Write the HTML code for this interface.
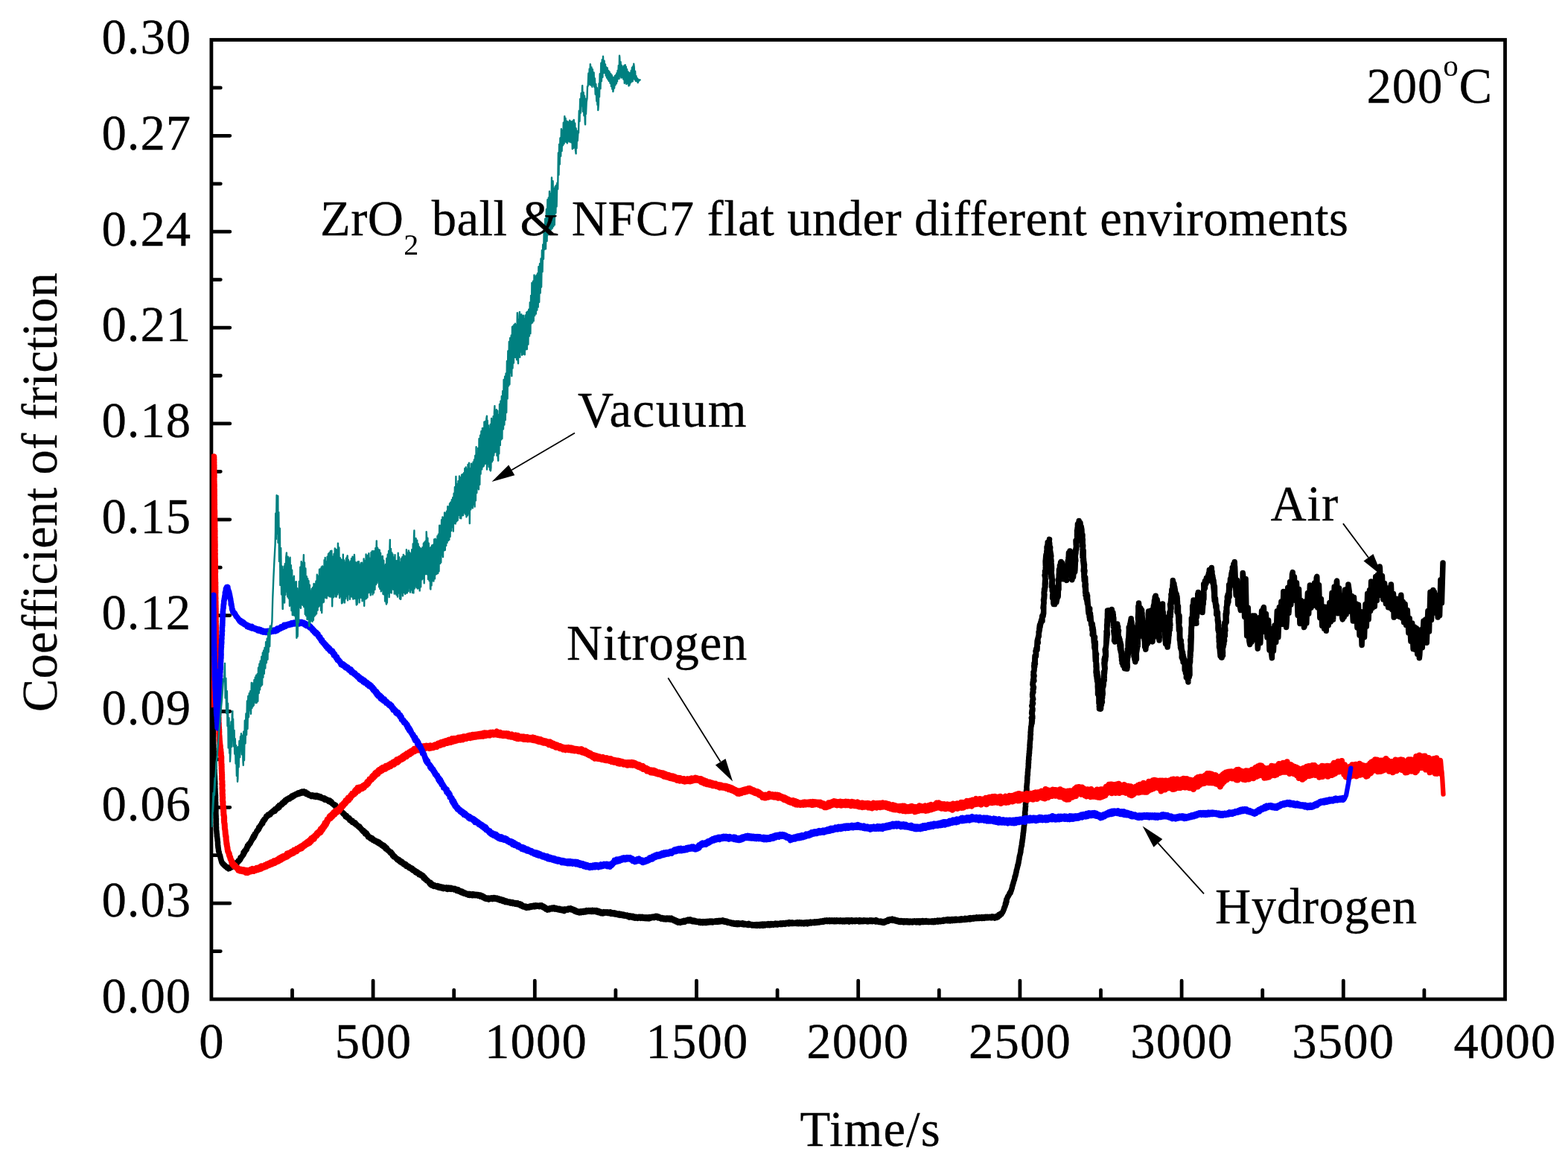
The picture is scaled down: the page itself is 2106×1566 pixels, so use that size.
<!DOCTYPE html>
<html lang="en"><head><meta charset="utf-8"><title>Coefficient of friction vs time</title>
<style>html,body{margin:0;padding:0;background:#fff;}body{width:2106px;height:1566px;overflow:hidden;}svg{display:block;}text{font-family:"Liberation Serif","DejaVu Serif",serif;fill:#000;stroke:#000;stroke-width:0.3px;white-space:pre;}</style></head><body>
<svg width="2106" height="1566" viewBox="0 0 2106 1566">
<rect width="2106" height="1566" fill="#fff"/>
<g stroke="#000" stroke-width="4.8" fill="none" stroke-linecap="round" stroke-linejoin="miter">
<rect x="283.9" y="53.5" width="1737.6" height="1288.5"/>
<path d="M284.9 1277.6h11.4M284.9 1213.2h23.9M284.9 1148.7h11.4M284.9 1084.3h23.9M284.9 1019.9h11.4M284.9 955.5h23.9M284.9 891.0h11.4M284.9 826.6h23.9M284.9 762.2h11.4M284.9 697.8h23.9M284.9 633.3h11.4M284.9 568.9h23.9M284.9 504.5h11.4M284.9 440.1h23.9M284.9 375.6h11.4M284.9 311.2h23.9M284.9 246.8h11.4M284.9 182.3h23.9M284.9 117.9h11.4M392.5 1341.0v-11.4M501.1 1341.0v-23.9M609.7 1341.0v-11.4M718.3 1341.0v-23.9M826.9 1341.0v-11.4M935.5 1341.0v-23.9M1044.1 1341.0v-11.4M1152.7 1341.0v-23.9M1261.3 1341.0v-11.4M1369.9 1341.0v-23.9M1478.5 1341.0v-11.4M1587.1 1341.0v-23.9M1695.7 1341.0v-11.4M1804.3 1341.0v-23.9M1912.9 1341.0v-11.4"/>
</g>
<defs><clipPath id="plot"><rect x="283.9" y="53.5" width="1737.6" height="1288.5"/></clipPath></defs>
<g clip-path="url(#plot)">
<g fill="none" stroke-linejoin="round" stroke-linecap="round">
<path d="M284.6 900.2L284.5 901.1L284.6 902.8L284.7 903.8L284.7 905.4L284.7 906.4L284.7 908.0L284.6 909.0L284.6 910.6L284.8 911.6L284.7 913.3L284.8 914.2L284.7 915.8L284.8 916.8L284.7 918.4L284.9 919.4L284.8 921.1L284.9 922.0L284.9 923.6L284.8 924.6L284.9 926.3L284.9 927.2L285.0 928.8L285.1 929.9L285.1 931.5L285.0 932.4L285.0 934.1L285.1 935.0L285.2 936.7L285.2 937.6L285.2 939.3L285.2 940.3L285.2 941.9L285.3 942.9L285.3 944.5L285.2 945.5L285.3 947.2L285.2 948.1L285.3 949.8L285.3 950.7L285.3 952.3L285.4 953.3L285.5 955.0L285.3 955.9L285.4 957.6L285.5 958.5L285.5 960.1L285.5 961.2L285.6 962.8L285.6 963.8L285.6 965.4L285.6 966.4L285.7 968.0L285.7 968.9L285.7 970.7L285.9 971.5L285.9 973.3L286.0 974.1L286.0 975.9L286.1 976.8L286.1 978.5L286.2 979.4L286.2 981.1L286.2 982.0L286.3 983.7L286.4 984.6L286.3 986.3L286.4 987.2L286.5 988.9L286.6 989.8L286.4 991.5L286.6 992.5L286.6 994.1L286.7 995.1L286.7 996.7L286.7 997.6L286.7 999.4L286.9 1000.3L286.9 1002.0L286.9 1002.9L286.9 1004.6L287.1 1005.4L287.0 1007.1L287.0 1008.0L287.2 1009.8L287.1 1010.7L287.1 1012.3L287.3 1013.3L287.3 1015.0L287.3 1015.9L287.5 1017.6L287.4 1018.4L287.5 1020.2L287.7 1021.1L287.6 1022.8L287.6 1023.7L287.8 1025.4L287.8 1026.3L287.9 1028.0L287.9 1028.9L288.0 1030.7L287.8 1031.5L287.9 1033.3L288.2 1034.2L288.0 1035.9L288.1 1036.8L288.2 1038.5L288.2 1039.4L288.3 1041.2L288.4 1042.0L288.5 1043.8L288.5 1044.6L288.6 1046.4L288.6 1047.2L288.6 1049.0L288.8 1049.9L288.6 1051.6L288.9 1052.5L288.7 1054.2L288.7 1055.1L288.9 1056.8L288.8 1057.6L288.9 1059.4L289.0 1060.3L289.0 1062.0L289.1 1062.9L289.1 1064.8L289.2 1065.5L289.3 1067.3L289.5 1068.1L289.4 1070.0L289.6 1070.8L289.3 1072.6L289.6 1073.4L289.5 1075.2L289.5 1076.1L289.7 1077.9L289.7 1078.6L289.6 1080.4L289.8 1081.3L289.8 1083.1L289.8 1084.0L290.0 1085.8L289.9 1086.6L290.0 1088.5L289.9 1089.3L289.9 1091.0L289.9 1091.9L290.0 1093.7L290.0 1094.5L290.2 1096.3L290.1 1097.1L290.2 1099.0L290.4 1099.7L290.3 1101.7L290.3 1102.5L290.3 1104.2L290.2 1105.1L290.5 1106.9L290.4 1107.7L290.3 1109.6L290.5 1110.4L290.6 1112.1L290.5 1113.0L290.6 1114.8L290.8 1115.7L291.0 1117.4L291.0 1118.2L291.2 1120.1L291.4 1120.8L291.3 1122.7L291.6 1123.5L291.7 1125.2L291.9 1126.0L292.1 1127.8L292.1 1128.7L292.4 1130.5L292.5 1131.3L292.5 1133.1L292.5 1133.9L292.7 1135.8L292.9 1136.4L292.9 1138.3L293.2 1139.0L293.4 1141.0L293.5 1141.6L293.7 1143.5L294.1 1144.1L294.5 1146.1L294.6 1146.6L295.2 1148.6L295.6 1149.1L295.9 1150.9L296.1 1151.6L296.5 1153.3L296.7 1154.0L297.2 1155.9L297.4 1156.5L297.9 1158.4L298.5 1158.7L299.2 1160.5L300.3 1160.4L301.1 1162.2L302.0 1162.1L302.9 1163.9L304.2 1164.0L305.1 1165.7L305.6 1165.5L306.9 1166.7L308.0 1165.5L308.8 1166.0L309.7 1164.3L311.1 1164.8L312.3 1162.8L313.1 1163.2L314.3 1161.3L315.5 1161.8L316.1 1160.2L317.6 1160.5L318.1 1158.3L318.7 1159.0L320.0 1156.2L320.8 1156.8L322.0 1154.3L322.7 1154.6L322.9 1152.0L323.7 1152.4L325.1 1149.7L325.6 1149.8L326.4 1147.5L327.0 1147.9L327.0 1145.0L328.3 1145.4L328.5 1143.1L329.3 1143.4L330.2 1140.6L331.2 1141.0L331.6 1138.3L332.1 1138.6L332.4 1136.1L333.3 1136.6L334.0 1133.8L334.7 1134.4L336.0 1131.6L336.2 1132.6L337.3 1129.3L337.6 1129.8L338.4 1127.1L338.9 1127.7L339.6 1124.7L340.6 1125.5L340.7 1122.8L341.9 1123.0L342.3 1120.2L343.0 1120.7L343.9 1118.3L344.0 1118.6L345.0 1115.8L345.5 1116.3L346.8 1113.5L347.4 1114.1L347.6 1111.5L348.6 1111.7L349.3 1109.2L349.6 1109.5L350.8 1107.2L350.9 1107.7L351.8 1105.0L352.8 1105.9L353.2 1102.7L353.8 1103.2L354.6 1100.7L355.6 1101.1L356.9 1098.5L356.8 1099.1L357.6 1096.4L358.5 1096.9L359.7 1094.5L360.8 1095.0L361.9 1093.1L363.1 1093.8L364.1 1091.3L364.5 1092.0L365.9 1089.8L366.6 1090.4L367.9 1088.2L369.4 1089.2L369.6 1086.7L370.8 1087.4L371.7 1085.2L373.1 1085.6L373.5 1083.4L375.1 1084.2L375.3 1081.5L376.3 1082.2L378.0 1079.7L378.6 1080.9L379.3 1078.2L380.4 1079.2L381.2 1076.6L382.7 1077.4L383.2 1074.8L384.3 1075.5L385.1 1073.3L386.2 1074.0L387.7 1072.0L389.2 1072.9L390.3 1070.7L391.1 1071.4L391.8 1069.2L393.1 1070.3L394.2 1068.1L395.2 1068.9L396.5 1067.0L397.4 1067.6L398.7 1065.8L400.2 1066.6L400.7 1064.8L401.9 1066.0L403.6 1063.9L404.6 1065.3L405.8 1063.3L406.9 1064.8L408.3 1063.0L409.3 1065.0L410.8 1064.0L411.5 1066.3L413.1 1065.4L414.2 1067.8L414.9 1067.0L416.6 1068.7L417.1 1067.8L418.2 1069.5L419.8 1068.0L421.4 1069.8L423.1 1068.4L423.9 1070.4L425.6 1068.6L427.2 1070.6L428.2 1069.1L429.2 1071.0L430.7 1070.0L431.7 1071.9L432.7 1071.1L433.9 1072.8L435.5 1071.9L436.4 1074.2L437.5 1072.9L439.5 1075.0L440.1 1074.1L441.4 1076.3L443.1 1075.1L444.0 1077.5L445.1 1076.7L445.9 1079.0L446.2 1078.5L448.1 1080.8L448.5 1080.2L450.0 1082.5L450.7 1081.2L451.2 1084.1L452.0 1083.2L453.4 1085.8L454.1 1085.0L455.1 1087.5L456.5 1086.7L457.3 1089.3L457.7 1088.4L459.3 1090.7L459.4 1090.3L460.7 1092.7L461.3 1092.1L462.3 1094.2L462.9 1093.6L463.8 1096.3L465.6 1095.6L466.0 1097.8L466.8 1097.3L468.0 1099.4L469.2 1098.9L469.7 1101.4L470.5 1100.4L471.5 1102.7L473.2 1102.4L473.4 1104.4L474.5 1103.9L476.3 1106.2L477.3 1105.3L478.5 1107.9L479.0 1107.2L480.5 1109.5L480.8 1108.9L482.2 1111.1L483.1 1110.3L484.3 1112.8L484.6 1112.3L485.9 1114.8L486.2 1114.0L487.3 1116.3L488.4 1115.7L489.3 1118.3L490.5 1117.5L490.7 1120.0L492.4 1119.2L493.1 1121.8L493.9 1121.4L494.4 1123.9L495.2 1123.1L496.7 1125.5L498.0 1124.8L498.7 1127.0L500.2 1126.0L501.1 1128.3L501.8 1127.4L503.3 1129.6L504.3 1128.9L505.9 1131.0L507.1 1130.2L508.0 1132.4L509.2 1131.2L510.0 1133.5L511.3 1132.9L512.5 1135.2L512.9 1134.1L514.2 1136.5L515.6 1135.4L516.3 1138.1L517.5 1137.2L518.1 1139.9L519.5 1139.0L520.5 1141.6L520.7 1141.1L522.3 1143.2L522.6 1142.6L523.9 1145.1L525.2 1144.4L526.0 1146.9L526.7 1146.3L527.3 1149.0L528.1 1148.3L528.9 1150.7L530.1 1150.2L531.5 1152.3L531.7 1151.7L533.2 1154.4L533.9 1153.5L535.0 1155.6L536.1 1154.8L537.1 1157.3L538.4 1156.4L539.2 1158.7L540.5 1157.8L541.9 1160.5L542.3 1159.4L543.8 1161.8L545.1 1160.8L545.9 1163.4L546.9 1162.7L548.5 1164.7L549.3 1163.8L549.9 1166.0L551.6 1165.4L552.9 1167.6L553.7 1166.2L554.5 1168.9L555.8 1168.2L557.2 1170.5L557.9 1169.5L558.4 1171.8L560.1 1170.9L560.7 1173.0L561.9 1172.3L562.8 1174.6L564.4 1173.6L565.5 1175.8L566.3 1174.9L567.8 1177.1L568.2 1176.1L568.9 1179.0L570.2 1178.2L570.8 1180.6L571.9 1180.3L573.0 1182.7L574.0 1182.1L575.4 1184.4L575.6 1183.9L576.8 1186.4L578.4 1185.4L578.5 1188.1L580.0 1187.1L580.4 1189.3L582.5 1188.6L582.9 1190.4L584.4 1189.1L585.7 1190.8L587.5 1189.8L588.4 1191.8L589.5 1190.2L590.9 1192.4L592.1 1191.1L593.1 1192.9L594.8 1191.5L595.8 1193.5L597.3 1192.2L599.0 1193.7L600.0 1192.0L601.5 1194.4L602.9 1192.3L604.2 1194.0L605.5 1192.6L606.4 1194.3L607.9 1193.1L609.8 1194.8L610.9 1193.5L612.2 1195.3L613.4 1194.5L613.8 1196.5L615.6 1194.9L616.8 1197.4L618.1 1196.5L619.3 1198.6L620.8 1197.3L621.8 1199.5L622.6 1198.2L623.5 1200.2L624.6 1199.2L626.4 1201.0L627.1 1200.1L628.7 1201.9L629.9 1200.5L630.8 1202.3L632.0 1200.7L633.9 1202.4L635.2 1200.8L635.9 1202.6L637.7 1201.1L638.5 1202.7L640.2 1201.4L641.8 1202.9L642.7 1201.6L644.2 1203.5L645.4 1202.3L645.9 1204.3L647.8 1203.2L648.8 1205.5L649.9 1204.3L651.4 1206.7L652.7 1205.9L653.7 1207.4L654.5 1206.2L656.4 1207.9L657.1 1206.2L658.8 1207.3L660.0 1206.0L661.4 1207.4L662.7 1205.7L664.0 1207.0L664.6 1205.7L666.1 1207.4L667.5 1206.3L668.6 1208.0L669.7 1207.0L671.4 1209.1L672.6 1207.8L674.0 1209.8L675.5 1208.5L676.0 1210.5L677.7 1209.4L678.8 1211.5L680.5 1210.2L681.4 1211.8L682.2 1210.9L684.3 1212.5L684.7 1211.2L685.9 1213.0L687.8 1211.6L689.0 1213.6L689.9 1212.3L691.5 1213.9L692.7 1212.7L694.0 1214.4L695.3 1213.1L696.3 1214.9L698.1 1213.9L699.1 1216.2L699.9 1214.5L701.2 1217.0L701.8 1215.9L702.9 1218.0L705.0 1217.1L706.0 1218.8L706.9 1217.5L707.6 1219.3L709.8 1217.6L710.5 1218.9L712.2 1216.9L713.2 1218.2L714.4 1216.6L715.4 1217.8L717.0 1216.3L718.1 1217.7L719.7 1215.9L720.7 1217.4L722.2 1216.1L724.1 1217.6L725.4 1215.9L726.4 1217.4L727.6 1216.0L728.9 1218.4L730.4 1217.5L731.1 1219.5L732.5 1218.8L732.9 1220.9L734.0 1220.0L735.3 1222.1L737.3 1220.2L737.8 1221.6L739.1 1219.7L741.0 1220.8L741.9 1219.1L743.0 1220.5L744.1 1218.9L745.5 1221.0L746.9 1219.7L748.4 1221.4L748.9 1220.1L750.3 1221.8L751.8 1220.5L753.0 1222.3L754.7 1221.2L755.8 1222.9L757.1 1221.5L758.1 1223.5L758.7 1221.0L759.9 1222.4L761.7 1220.9L762.6 1222.0L763.6 1220.2L765.1 1221.4L766.3 1220.1L767.7 1221.8L768.5 1220.7L770.1 1222.7L771.2 1221.8L772.0 1223.9L772.8 1222.4L774.3 1224.8L775.2 1223.7L776.4 1225.4L778.2 1224.3L778.5 1225.9L780.3 1224.1L781.1 1225.5L783.0 1223.7L784.0 1225.2L785.1 1223.5L786.4 1224.8L787.8 1222.7L789.2 1224.3L790.8 1222.7L791.4 1224.2L793.3 1222.8L794.5 1224.4L795.9 1222.5L797.2 1224.3L798.6 1222.7L799.3 1224.0L801.1 1222.7L801.5 1224.9L803.7 1223.5L804.2 1225.8L806.3 1224.5L807.3 1226.6L808.7 1225.4L809.9 1226.9L811.2 1224.8L812.2 1226.3L813.8 1224.9L815.6 1226.4L816.4 1224.9L818.1 1226.5L819.6 1225.1L820.9 1227.2L822.0 1225.6L823.1 1227.4L824.7 1225.9L825.8 1227.8L827.0 1226.6L827.7 1228.1L829.5 1227.1L830.6 1228.8L832.0 1227.3L833.2 1229.2L834.6 1227.6L836.2 1229.5L837.6 1228.3L838.6 1230.0L839.7 1228.9L841.1 1230.4L842.3 1229.3L843.4 1231.1L845.2 1229.9L845.6 1232.0L847.2 1230.3L848.7 1231.9L850.0 1230.6L850.7 1232.6L852.0 1231.1L853.3 1233.1L854.6 1231.4L856.2 1233.2L858.0 1231.5L858.5 1233.0L860.0 1231.5L861.1 1233.2L862.6 1231.6L863.9 1233.3L865.1 1232.0L866.4 1233.4L867.7 1232.0L869.5 1233.6L870.5 1232.0L871.8 1233.8L872.9 1231.8L873.7 1233.3L875.6 1231.4L875.9 1232.7L877.3 1231.1L878.7 1232.4L880.4 1230.4L881.5 1231.9L882.4 1230.5L883.8 1232.7L884.9 1231.3L886.4 1233.3L887.0 1232.3L888.1 1234.1L889.5 1232.8L891.2 1234.4L892.3 1233.1L893.4 1234.7L895.1 1233.2L895.7 1234.8L896.9 1233.1L898.7 1234.8L899.5 1233.2L900.8 1235.0L902.0 1233.3L903.2 1235.5L904.2 1234.5L905.6 1236.6L906.5 1235.6L907.9 1237.9L909.2 1236.7L910.6 1239.0L912.1 1237.7L913.5 1239.2L914.4 1237.6L915.3 1238.6L917.0 1236.9L917.6 1238.4L918.8 1236.5L920.1 1237.9L921.8 1235.9L922.3 1237.0L924.1 1235.2L925.1 1236.8L926.9 1235.1L927.4 1236.9L929.0 1235.7L930.3 1237.6L931.9 1236.2L932.9 1237.9L934.0 1236.7L935.6 1238.3L937.1 1237.3L938.9 1238.9L940.0 1237.4L941.0 1239.4L942.4 1237.9L944.0 1239.4L944.5 1237.6L946.6 1239.4L947.3 1237.6L949.0 1239.3L950.1 1237.4L951.8 1238.9L953.0 1237.1L954.4 1238.6L955.0 1237.1L957.0 1238.8L957.3 1237.2L959.3 1238.3L960.9 1237.0L961.9 1238.2L963.1 1236.6L964.2 1238.3L965.7 1236.5L966.7 1237.9L968.2 1236.4L969.7 1237.5L970.8 1236.0L972.8 1238.0L973.3 1236.6L974.7 1238.3L976.0 1237.3L977.4 1239.2L978.5 1238.1L980.6 1239.9L981.3 1238.8L982.9 1240.6L984.4 1239.4L985.7 1241.0L986.2 1239.7L988.2 1241.3L989.4 1239.8L990.8 1241.5L992.0 1239.6L992.9 1241.4L994.6 1240.1L996.2 1241.4L997.4 1239.8L998.8 1241.7L1000.3 1240.4L1000.9 1241.8L1003.1 1240.8L1004.3 1242.4L1005.7 1240.5L1006.2 1242.4L1007.9 1241.4L1009.7 1242.9L1010.2 1241.5L1011.7 1243.0L1013.5 1241.9L1014.7 1243.1L1016.0 1241.7L1017.3 1243.2L1018.3 1241.8L1020.3 1243.2L1021.3 1241.4L1022.4 1243.1L1024.1 1241.2L1025.0 1243.3L1026.8 1241.3L1027.5 1242.8L1029.4 1241.1L1030.7 1242.4L1031.9 1240.8L1033.2 1242.6L1034.7 1240.6L1035.4 1242.4L1036.7 1240.7L1038.5 1242.2L1039.7 1240.6L1041.3 1241.8L1042.1 1240.1L1043.9 1241.9L1044.7 1240.3L1045.7 1241.5L1048.0 1240.0L1049.0 1241.5L1050.3 1239.9L1051.3 1241.4L1052.5 1239.7L1054.2 1241.2L1055.8 1239.6L1056.3 1240.8L1057.6 1239.5L1059.4 1240.8L1060.1 1238.6L1062.2 1240.4L1063.5 1238.9L1064.6 1240.4L1065.3 1239.1L1067.1 1240.3L1068.7 1239.1L1069.8 1240.4L1071.0 1238.8L1072.4 1240.5L1073.8 1238.7L1074.3 1240.5L1076.2 1238.9L1077.0 1240.5L1078.9 1239.1L1079.8 1240.7L1081.6 1238.9L1082.5 1240.3L1083.7 1238.7L1085.0 1240.7L1086.0 1238.7L1087.8 1239.8L1088.7 1238.2L1089.9 1239.8L1091.5 1238.4L1093.2 1239.5L1094.2 1237.9L1095.5 1239.3L1096.5 1238.0L1097.6 1239.0L1099.3 1237.6L1100.4 1238.9L1102.0 1237.2L1103.1 1238.3L1105.1 1236.6L1105.9 1238.2L1107.7 1236.1L1108.4 1237.5L1110.4 1236.0L1111.2 1237.5L1112.9 1236.2L1114.2 1237.5L1114.9 1235.9L1116.9 1237.4L1117.7 1236.0L1119.7 1237.5L1120.7 1236.0L1122.1 1237.6L1123.6 1236.0L1124.3 1237.6L1125.9 1236.1L1127.4 1237.5L1128.7 1235.9L1129.4 1237.5L1131.2 1236.1L1132.1 1237.8L1133.7 1236.2L1134.6 1237.8L1136.5 1235.9L1137.2 1237.5L1138.6 1236.1L1140.3 1238.0L1141.1 1235.9L1143.0 1237.4L1144.0 1235.8L1144.9 1237.6L1147.2 1236.1L1148.4 1237.5L1149.7 1236.0L1150.3 1237.4L1151.7 1236.2L1153.7 1237.8L1154.8 1235.8L1156.1 1237.6L1157.2 1236.2L1158.8 1237.6L1160.3 1236.0L1160.8 1237.4L1162.4 1236.2L1164.0 1237.6L1165.0 1236.1L1166.0 1237.8L1168.2 1236.0L1169.4 1237.4L1170.4 1236.0L1171.8 1237.6L1172.7 1236.2L1174.5 1237.4L1176.3 1235.8L1176.7 1238.0L1178.0 1236.3L1180.1 1238.3L1180.6 1237.0L1182.6 1238.5L1183.3 1237.3L1184.9 1239.0L1186.0 1237.6L1187.2 1239.2L1188.3 1237.4L1189.2 1238.6L1190.4 1236.6L1192.5 1237.4L1193.1 1235.1L1194.1 1236.6L1195.5 1234.6L1196.4 1235.8L1198.3 1234.3L1199.0 1236.3L1200.8 1235.0L1201.6 1236.6L1202.7 1235.4L1204.3 1237.4L1205.1 1235.8L1206.9 1238.0L1207.8 1236.7L1208.8 1238.4L1210.3 1236.7L1211.4 1238.3L1213.0 1237.0L1214.0 1238.7L1215.3 1236.9L1216.8 1238.5L1218.2 1237.0L1219.7 1238.7L1220.7 1237.1L1221.9 1238.7L1223.0 1237.1L1225.1 1238.8L1226.1 1237.1L1227.7 1238.3L1228.6 1237.0L1230.3 1238.7L1231.6 1236.9L1232.7 1238.6L1234.3 1237.0L1235.5 1239.0L1237.0 1237.0L1237.8 1238.4L1239.3 1236.8L1240.5 1238.4L1242.3 1236.9L1243.4 1238.3L1244.3 1236.8L1246.1 1238.4L1247.2 1237.2L1248.3 1238.3L1250.2 1237.2L1250.9 1238.4L1252.2 1236.9L1253.6 1238.4L1255.4 1236.7L1256.0 1238.4L1257.7 1236.6L1259.3 1238.0L1259.7 1236.1L1261.7 1237.5L1262.4 1236.2L1263.7 1237.5L1265.7 1235.9L1266.7 1237.2L1267.5 1235.3L1268.8 1236.9L1270.8 1235.2L1272.0 1236.5L1273.2 1234.8L1274.2 1236.7L1275.7 1235.1L1276.2 1236.8L1278.4 1234.7L1279.4 1236.5L1280.4 1234.6L1282.2 1236.2L1283.0 1234.4L1284.5 1235.9L1285.1 1234.4L1286.6 1235.8L1288.4 1234.4L1289.0 1235.9L1291.0 1233.9L1291.8 1235.6L1292.8 1234.1L1294.7 1235.4L1296.3 1233.6L1297.1 1235.2L1298.5 1233.6L1299.5 1234.9L1301.1 1233.3L1302.6 1234.7L1303.5 1232.7L1304.3 1234.5L1306.5 1232.7L1307.5 1234.0L1308.5 1232.5L1309.8 1233.6L1311.6 1232.0L1312.2 1233.5L1314.1 1232.2L1315.0 1233.4L1315.8 1232.0L1317.9 1233.3L1318.9 1231.6L1319.7 1233.4L1321.7 1231.8L1322.3 1233.3L1324.0 1231.5L1325.2 1232.8L1326.4 1231.5L1327.5 1232.7L1329.2 1231.4L1330.8 1232.7L1332.2 1231.0L1332.7 1232.7L1334.1 1231.2L1336.1 1233.0L1337.5 1231.0L1338.8 1232.3L1339.2 1230.4L1340.8 1231.5L1341.5 1228.6L1342.8 1229.6L1344.0 1227.1L1345.0 1227.8L1346.3 1225.3L1346.3 1225.7L1347.6 1223.1L1347.4 1223.3L1348.3 1221.0L1348.5 1221.1L1348.8 1218.6L1349.5 1218.5L1350.3 1215.9L1350.1 1216.0L1350.4 1213.5L1351.2 1213.5L1351.2 1210.9L1352.0 1210.8L1351.7 1208.4L1352.1 1208.3L1353.0 1205.9L1353.0 1205.8L1353.8 1203.7L1354.4 1203.6L1355.2 1201.6L1355.6 1201.2L1356.1 1199.3L1357.2 1199.1L1357.5 1197.0L1358.0 1196.7L1358.6 1194.7L1358.6 1194.4L1359.4 1192.2L1359.4 1191.8L1359.7 1189.8L1360.0 1189.3L1360.6 1187.3L1360.7 1186.9L1361.3 1185.0L1361.4 1184.6L1361.9 1182.5L1362.3 1181.9L1362.8 1179.8L1363.0 1179.5L1363.0 1177.4L1363.8 1176.9L1364.0 1174.9L1364.4 1174.4L1364.5 1172.2L1365.0 1171.7L1365.2 1169.7L1365.2 1169.1L1365.9 1167.2L1366.0 1166.7L1366.4 1164.7L1366.7 1164.1L1366.8 1162.1L1367.5 1161.5L1367.6 1159.5L1368.0 1158.9L1368.2 1156.9L1368.3 1156.3L1368.7 1154.3L1368.9 1153.9L1369.0 1151.8L1369.2 1151.3L1369.5 1149.2L1369.8 1148.7L1370.3 1146.7L1370.3 1146.2L1370.9 1144.1L1370.9 1143.7L1371.0 1141.5L1371.2 1141.1L1371.4 1139.2L1371.6 1138.5L1371.9 1136.4L1372.3 1136.1L1372.6 1133.8L1372.4 1133.5L1372.6 1131.4L1373.0 1130.9L1373.0 1128.8L1373.3 1128.3L1373.5 1126.3L1373.7 1125.8L1373.8 1123.8L1373.9 1123.3L1374.2 1121.2L1374.1 1120.6L1374.3 1118.7L1374.6 1118.0L1374.7 1116.1L1374.9 1115.6L1375.0 1113.6L1375.1 1112.9L1375.2 1110.8L1375.3 1110.5L1375.6 1108.4L1375.8 1107.8L1375.8 1105.8L1375.6 1105.3L1376.0 1103.3L1376.2 1102.8L1376.2 1100.7L1376.0 1100.2L1376.3 1098.0L1376.2 1097.6L1376.3 1095.5L1376.7 1095.0L1376.9 1092.9L1376.5 1092.2L1376.8 1090.1L1376.8 1089.7L1377.2 1087.6L1377.1 1087.0L1377.2 1085.0L1377.3 1084.4L1377.6 1082.4L1377.5 1081.8L1377.4 1079.8L1377.7 1079.2L1377.7 1077.2L1377.7 1076.7L1377.8 1074.4L1377.9 1074.0L1378.2 1071.9L1378.1 1071.4L1378.3 1069.4L1378.6 1068.8L1378.7 1066.7L1378.7 1066.2L1378.4 1064.1L1378.4 1063.6L1378.5 1061.5L1379.1 1060.9L1379.0 1058.8L1378.9 1058.4L1378.9 1056.3L1379.0 1055.8L1379.2 1053.7L1379.2 1053.1L1379.6 1051.1L1379.6 1050.5L1379.6 1048.4L1379.7 1048.0L1379.9 1045.9L1379.7 1045.3L1379.9 1043.3L1379.9 1042.8L1380.3 1040.7L1380.4 1040.2L1380.3 1038.1L1380.3 1037.7L1380.6 1035.6L1380.6 1035.1L1380.7 1033.0L1380.8 1032.6L1381.2 1030.6L1381.1 1030.0L1381.3 1028.0L1381.3 1027.3L1381.2 1025.5L1381.5 1024.9L1381.5 1022.8L1381.4 1022.4L1381.6 1020.3L1381.9 1019.9L1381.7 1017.8L1381.8 1017.2L1382.0 1015.1L1382.3 1014.6L1382.1 1012.7L1382.5 1012.1L1382.6 1010.1L1382.4 1009.6L1382.7 1007.6L1382.8 1007.0L1382.8 1004.9L1383.1 1004.4L1383.2 1002.2L1383.0 1001.8L1383.1 999.8L1383.3 999.2L1383.3 997.1L1383.4 996.6L1383.5 994.5L1383.8 993.9L1384.0 991.8L1383.9 991.3L1383.9 989.3L1383.9 988.7L1384.1 986.7L1384.4 986.2L1384.1 983.9L1384.1 983.4L1384.5 981.4L1384.4 980.9L1384.6 978.8L1384.6 978.3L1384.7 976.2L1385.0 975.6L1385.3 973.6L1385.4 973.2L1385.4 971.2L1385.6 970.6L1385.6 968.7L1385.8 968.0L1385.8 965.9L1385.9 965.5L1386.0 963.4L1386.3 962.9L1386.6 960.8L1386.1 971.2L1386.4 967.0L1386.4 968.2L1385.3 964.3L1386.8 964.7L1386.8 961.5L1386.2 961.1L1386.4 957.8L1385.6 957.9L1386.0 954.3L1386.9 954.7L1387.0 951.9L1386.8 951.5L1385.8 947.9L1386.2 948.4L1387.5 944.7L1386.5 946.0L1386.9 941.7L1386.5 942.8L1387.3 938.2L1387.7 939.0L1386.9 935.9L1386.6 935.5L1386.9 932.2L1386.5 933.0L1387.1 929.4L1387.9 929.6L1387.2 926.0L1387.9 926.0L1388.4 923.3L1388.1 923.7L1386.9 919.2L1387.6 920.2L1387.1 916.9L1387.5 917.5L1387.6 912.9L1388.9 914.3L1388.1 910.1L1388.5 910.9L1387.9 906.4L1389.1 907.8L1388.0 903.0L1388.2 904.0L1389.1 899.8L1388.8 901.6L1389.2 897.4L1389.0 897.5L1388.7 894.4L1389.8 895.3L1389.0 891.3L1390.5 891.6L1389.8 887.8L1390.3 888.8L1390.3 884.4L1389.8 885.8L1390.0 881.0L1391.5 881.5L1391.6 877.2L1391.6 879.3L1391.0 874.7L1391.3 876.2L1391.7 871.4L1393.0 873.1L1393.2 868.2L1392.7 869.7L1392.9 865.2L1392.9 865.7L1393.1 860.9L1394.3 863.3L1393.8 858.8L1393.4 859.7L1394.7 854.8L1394.3 857.5L1395.2 852.0L1395.3 854.4L1395.1 848.9L1395.2 850.9L1396.3 845.8L1395.7 848.7L1396.6 842.9L1395.8 845.0L1396.4 839.6L1397.0 842.5L1397.6 836.3L1397.5 839.1L1398.5 833.1L1398.3 836.5L1399.5 830.2L1400.0 833.8L1399.7 827.4L1399.5 830.5L1401.1 824.4L1401.1 827.3L1401.6 821.9L1401.7 823.9L1401.7 818.2L1401.7 821.2L1401.8 814.3L1401.0 816.6L1401.7 811.2L1401.5 814.6L1402.2 809.4L1402.1 810.4L1401.5 806.0L1402.1 807.1L1402.0 803.0L1402.5 804.4L1402.9 798.5L1402.4 802.5L1402.1 795.7L1402.6 798.1L1402.5 791.5L1403.0 794.1L1403.4 790.1L1403.3 791.6L1403.4 784.7L1403.9 788.6L1403.9 782.3L1403.3 784.8L1403.7 779.3L1404.3 783.6L1403.8 776.6L1404.3 778.0L1403.1 772.9L1404.0 775.2L1404.1 768.9L1403.7 772.7L1403.5 767.2L1404.8 769.4L1404.8 762.4L1404.3 765.9L1405.0 760.2L1404.2 762.9L1405.3 757.0L1404.3 760.1L1404.1 753.5L1404.7 756.5L1405.4 749.7L1404.2 753.9L1404.8 746.2L1405.7 750.0L1405.0 745.1L1406.2 747.0L1405.7 741.0L1405.9 744.6L1406.2 738.8L1406.3 740.6L1406.0 735.0L1406.1 738.1L1406.9 731.6L1407.8 735.2L1407.2 728.6L1408.3 733.0L1409.5 724.4L1408.3 732.7L1409.2 727.5L1409.8 735.5L1409.7 729.6L1409.7 738.0L1410.7 735.0L1410.0 742.6L1409.8 736.2L1411.0 744.6L1410.6 739.5L1411.8 746.9L1411.3 743.4L1411.4 750.7L1410.9 746.5L1412.1 753.1L1411.2 748.9L1412.2 758.3L1411.0 752.5L1412.6 762.7L1412.2 757.9L1412.5 763.3L1412.3 758.1L1412.5 766.3L1411.9 761.4L1411.7 771.1L1412.2 767.2L1412.6 772.4L1411.8 769.7L1411.9 775.7L1412.7 771.7L1413.3 779.2L1412.7 776.3L1413.1 783.6L1413.7 779.2L1412.4 787.5L1412.7 781.5L1413.4 791.4L1413.6 784.6L1413.2 793.4L1413.3 787.3L1413.8 795.1L1413.5 791.8L1414.4 798.4L1414.5 793.9L1413.6 803.3L1413.7 798.9L1414.6 804.9L1415.2 800.8L1414.8 810.3L1414.8 803.2L1415.3 811.4L1417.2 806.6L1416.7 811.6L1418.5 803.6L1418.9 808.8L1419.3 801.9L1419.3 806.8L1420.5 798.9L1420.3 803.0L1421.1 794.5L1421.2 801.1L1421.4 792.0L1421.1 798.6L1421.4 789.4L1420.5 793.2L1420.8 787.8L1422.0 792.0L1422.0 784.8L1421.6 790.6L1422.0 779.9L1421.8 784.2L1421.5 777.9L1421.9 782.3L1422.9 774.8L1422.1 778.6L1422.2 771.0L1422.5 776.2L1422.4 765.1L1423.2 774.9L1423.9 762.9L1423.8 771.7L1423.4 759.7L1423.9 767.3L1424.8 758.5L1424.2 761.3L1424.5 755.6L1425.0 762.0L1425.2 754.6L1425.6 762.3L1426.3 756.0L1425.6 765.2L1426.7 758.2L1426.9 769.2L1427.7 765.3L1426.5 773.8L1427.3 768.3L1427.8 777.8L1428.0 770.2L1428.6 776.9L1431.2 772.2L1432.5 779.4L1431.6 773.8L1432.1 776.3L1432.0 769.2L1432.3 773.2L1432.1 763.8L1432.5 772.1L1433.0 762.6L1432.7 768.2L1432.9 759.4L1434.4 766.3L1434.5 757.7L1433.4 763.0L1434.3 753.2L1434.3 760.3L1435.1 748.7L1434.7 756.3L1435.9 748.2L1435.1 752.4L1435.4 742.6L1436.9 749.1L1436.1 742.2L1436.6 744.9L1437.0 740.1L1436.8 748.1L1437.7 745.7L1437.0 752.3L1437.4 748.7L1437.5 755.7L1438.2 750.1L1438.5 760.4L1438.4 753.3L1438.0 764.4L1438.5 755.0L1438.7 767.2L1438.1 758.9L1438.4 768.1L1438.2 764.9L1438.8 773.6L1439.2 768.5L1440.2 776.4L1439.4 771.8L1439.9 778.7L1441.5 768.0L1441.6 775.0L1441.8 767.3L1442.1 770.9L1443.0 762.1L1443.7 768.0L1443.5 761.6L1443.9 766.2L1444.3 755.8L1443.1 762.4L1444.5 753.9L1443.8 759.7L1444.4 748.7L1444.2 758.6L1444.3 748.9L1444.8 753.1L1443.7 742.0L1443.7 750.5L1444.5 739.1L1444.5 745.7L1444.4 738.7L1445.0 743.0L1445.4 735.3L1444.8 739.3L1445.9 729.5L1445.8 737.6L1445.2 729.3L1446.1 734.0L1445.0 726.0L1445.2 731.8L1446.7 722.8L1446.7 727.0L1446.6 716.9L1446.7 725.9L1446.5 717.4L1446.8 721.9L1446.5 712.7L1446.8 716.5L1447.0 709.6L1447.4 716.2L1447.4 703.9L1448.2 714.0L1448.6 702.2L1448.9 710.6L1449.2 699.6L1450.3 706.5L1450.0 701.9L1450.0 708.9L1451.0 702.1L1451.5 711.7L1452.2 707.2L1452.1 713.8L1452.5 708.7L1453.1 720.4L1452.9 711.0L1453.3 722.3L1452.6 715.5L1453.8 723.9L1454.0 718.6L1453.2 726.1L1453.3 723.3L1453.8 733.0L1454.3 724.7L1453.6 732.9L1454.2 728.1L1454.3 737.2L1454.7 732.8L1453.9 740.0L1454.5 733.1L1453.9 744.7L1454.9 739.1L1453.9 747.6L1455.2 739.5L1455.2 750.2L1454.8 744.2L1455.7 752.9L1454.8 747.1L1456.0 755.6L1454.6 752.3L1455.6 760.5L1455.1 755.2L1455.8 763.9L1456.1 756.1L1455.2 766.4L1456.5 758.4L1455.8 771.2L1456.4 761.7L1455.9 773.7L1457.0 766.8L1455.9 774.8L1456.1 771.6L1456.2 779.8L1456.3 772.0L1457.4 783.8L1457.7 775.4L1458.0 787.7L1457.7 777.6L1457.0 787.3L1457.1 784.0L1457.7 792.1L1458.4 785.0L1457.6 795.1L1458.4 789.8L1457.9 799.1L1458.5 791.8L1458.9 803.8L1459.9 797.5L1459.9 806.0L1459.4 800.4L1459.9 807.6L1460.6 800.2L1460.3 810.4L1460.7 804.2L1461.5 814.8L1460.9 808.9L1462.1 817.7L1461.1 811.6L1461.7 821.3L1461.7 815.3L1462.0 823.6L1463.7 817.3L1463.1 828.6L1462.9 821.1L1464.3 827.8L1464.5 824.2L1463.6 831.9L1464.7 827.1L1465.1 834.0L1464.9 827.6L1465.6 838.7L1465.3 833.5L1467.0 842.6L1466.7 837.4L1466.8 846.0L1467.2 838.1L1468.2 848.5L1468.0 843.7L1467.2 852.2L1468.1 843.3L1469.0 856.0L1468.5 846.0L1469.4 859.1L1468.6 850.1L1469.3 862.7L1470.5 855.7L1469.8 862.9L1470.1 858.6L1470.5 865.4L1469.9 861.0L1469.8 869.6L1471.3 862.3L1470.3 871.2L1471.4 865.1L1471.1 874.8L1470.7 868.4L1471.9 877.5L1470.8 873.5L1471.1 883.7L1471.4 875.2L1471.2 885.8L1472.6 878.6L1471.3 887.2L1472.3 883.1L1472.0 891.9L1472.4 883.8L1472.0 895.5L1472.1 888.8L1473.0 896.8L1472.7 891.3L1472.0 902.7L1472.8 895.3L1473.2 906.0L1472.4 898.5L1472.5 907.5L1473.1 903.7L1473.1 910.9L1473.8 903.1L1473.5 914.4L1474.1 906.3L1474.6 919.6L1473.7 912.7L1474.8 919.0L1474.2 913.6L1474.4 923.6L1475.2 918.7L1474.8 928.7L1474.2 921.8L1474.9 930.9L1474.6 924.6L1474.5 932.2L1475.1 929.2L1476.2 936.2L1475.3 929.8L1476.1 939.5L1476.4 933.8L1475.9 944.3L1475.9 938.7L1477.1 946.9L1477.3 942.4L1476.3 948.6L1477.4 944.2L1476.5 952.0L1478.0 947.8L1478.3 952.2L1478.1 946.4L1478.6 951.6L1478.6 943.0L1479.4 946.5L1478.3 938.0L1478.6 943.3L1479.4 935.2L1480.4 943.0L1479.2 932.1L1480.6 937.3L1480.6 930.5L1480.0 933.6L1480.9 926.3L1481.3 932.4L1480.3 924.3L1480.6 931.2L1480.7 921.7L1481.1 924.4L1481.4 916.2L1481.9 921.6L1481.2 913.6L1482.3 919.5L1482.2 908.6L1481.7 915.6L1482.4 907.0L1483.2 913.6L1483.0 904.3L1483.3 911.6L1482.6 902.4L1482.6 906.4L1483.8 898.6L1483.5 904.4L1484.1 896.0L1483.9 899.9L1482.9 890.6L1484.2 897.7L1483.1 886.0L1483.7 894.8L1484.3 885.8L1483.9 890.3L1483.6 883.4L1484.7 887.4L1485.0 880.3L1484.2 883.3L1485.3 874.0L1485.4 881.5L1484.2 872.4L1484.5 876.3L1485.2 869.7L1484.5 875.1L1486.0 863.8L1485.3 870.2L1485.9 864.1L1485.6 866.9L1486.5 859.1L1485.7 864.5L1486.0 854.1L1485.9 861.1L1486.1 851.1L1486.0 859.6L1487.0 850.4L1486.9 856.0L1486.0 848.4L1487.4 852.6L1486.7 841.5L1487.0 849.5L1486.6 839.1L1486.7 846.2L1487.6 836.5L1486.7 841.9L1487.7 832.8L1486.9 842.0L1487.0 831.9L1487.1 836.5L1488.0 825.8L1487.4 834.4L1487.4 823.8L1487.7 829.7L1487.5 820.0L1487.7 828.3L1489.5 819.9L1491.4 828.9L1493.3 818.5L1493.8 826.5L1494.9 822.5L1494.3 830.0L1495.3 825.7L1495.0 834.6L1495.3 829.4L1495.8 835.9L1495.8 829.9L1495.3 841.3L1495.8 834.4L1496.1 843.1L1496.2 836.4L1496.5 844.9L1496.1 842.2L1496.7 850.6L1496.8 845.2L1496.4 852.5L1495.8 847.6L1497.3 857.2L1496.2 848.2L1497.0 858.4L1497.0 853.8L1496.5 860.0L1497.2 855.5L1497.6 862.0L1497.3 853.4L1498.1 858.3L1498.1 848.3L1498.1 856.4L1497.7 847.2L1499.2 850.9L1498.2 845.0L1499.6 847.5L1499.3 840.0L1500.1 845.8L1499.9 838.5L1500.6 846.9L1500.7 838.1L1501.0 849.7L1501.7 842.0L1500.7 853.4L1502.5 846.8L1501.4 854.1L1501.8 849.1L1502.1 856.6L1502.1 851.9L1502.8 862.0L1503.2 856.3L1504.3 865.9L1504.1 859.3L1503.9 867.3L1504.1 863.3L1504.4 871.9L1505.0 863.1L1505.2 875.1L1505.7 866.1L1505.8 876.9L1505.8 870.4L1506.5 881.3L1506.1 875.4L1506.2 882.4L1507.0 876.1L1506.5 886.7L1507.9 880.8L1507.0 890.1L1507.7 884.8L1507.8 890.6L1507.9 886.7L1508.3 893.6L1509.5 887.4L1510.4 897.8L1511.1 894.0L1511.3 897.9L1512.6 891.7L1513.8 898.3L1514.0 889.2L1514.3 895.7L1513.8 887.3L1513.7 891.9L1514.5 884.0L1513.8 890.4L1513.5 879.5L1513.9 886.6L1514.6 878.3L1514.9 882.4L1514.4 872.0L1515.3 878.9L1515.2 871.9L1515.1 874.9L1515.4 865.5L1515.5 871.5L1515.4 864.2L1515.4 868.8L1515.2 861.1L1515.0 867.8L1515.4 858.6L1515.3 863.0L1516.7 855.4L1515.5 860.0L1516.9 853.0L1516.1 856.3L1516.7 848.3L1515.9 855.8L1516.4 844.1L1516.7 852.7L1516.2 842.8L1516.6 846.9L1517.6 838.5L1517.2 844.8L1518.4 835.1L1518.2 842.3L1518.8 832.7L1518.9 837.0L1519.2 830.8L1519.2 841.2L1520.0 835.1L1519.5 844.6L1520.7 840.6L1519.9 849.1L1521.5 843.6L1520.4 851.7L1521.0 844.3L1520.9 854.1L1521.3 848.8L1522.3 857.6L1522.6 849.9L1522.4 862.2L1521.7 854.7L1522.1 864.6L1521.8 856.3L1522.3 868.5L1523.4 859.3L1522.6 872.1L1523.6 866.0L1523.3 874.8L1523.0 868.6L1522.6 876.7L1523.9 871.4L1522.9 880.9L1523.3 873.7L1523.4 882.7L1522.9 876.1L1524.0 885.8L1523.8 880.4L1524.8 888.9L1526.2 878.9L1526.4 885.1L1526.2 873.4L1526.1 881.4L1526.5 871.9L1526.3 877.1L1527.8 867.6L1526.7 874.9L1526.5 867.2L1526.8 873.9L1527.1 863.5L1526.8 867.0L1528.3 858.3L1528.3 866.9L1528.2 857.1L1527.3 861.3L1527.2 854.2L1528.3 859.0L1527.2 850.5L1528.7 857.4L1528.6 845.5L1528.9 852.9L1528.2 843.0L1528.1 847.6L1528.1 840.3L1528.0 844.6L1528.2 837.5L1529.4 843.1L1529.3 832.7L1529.0 839.2L1528.7 831.4L1529.1 838.3L1529.4 828.3L1528.5 831.6L1529.2 825.4L1528.4 829.7L1528.8 822.3L1529.5 827.7L1529.0 817.0L1528.9 825.9L1528.8 814.4L1529.8 822.0L1529.5 810.1L1530.5 821.8L1530.4 816.0L1531.8 824.2L1532.0 816.8L1533.1 827.1L1533.6 819.5L1533.4 830.6L1534.0 823.5L1533.7 832.6L1534.1 826.9L1534.6 835.2L1534.4 830.3L1534.2 838.3L1535.5 835.7L1535.0 842.3L1534.4 837.9L1534.7 845.9L1536.1 841.8L1535.4 850.3L1536.0 845.2L1535.6 851.6L1536.8 846.6L1536.0 855.6L1536.5 850.9L1537.0 859.7L1536.9 852.4L1537.5 863.8L1537.4 857.6L1537.5 865.7L1537.4 858.0L1537.6 868.7L1538.2 861.2L1538.8 872.2L1539.2 861.2L1539.2 868.9L1540.5 861.0L1541.4 864.3L1541.1 856.0L1541.5 863.4L1541.2 851.0L1541.3 859.4L1542.2 850.4L1541.9 857.8L1540.9 845.3L1541.9 852.9L1542.2 841.8L1541.3 849.5L1542.1 839.3L1542.7 847.6L1542.6 838.7L1542.0 844.9L1542.9 832.6L1542.0 841.1L1542.4 829.8L1542.7 838.3L1542.9 825.4L1542.6 833.5L1543.0 823.9L1542.1 832.3L1542.6 821.0L1542.2 825.9L1545.6 820.2L1544.7 830.0L1544.7 821.7L1545.4 833.5L1545.4 826.3L1545.1 834.4L1544.8 830.3L1545.2 837.3L1546.3 830.0L1545.8 840.2L1545.8 834.5L1546.3 842.8L1546.5 839.1L1546.0 848.7L1546.1 841.6L1547.3 850.9L1547.6 845.2L1547.8 851.9L1547.8 847.9L1546.6 856.0L1548.3 849.9L1548.0 861.5L1546.9 854.7L1547.8 861.9L1548.6 852.3L1548.8 857.2L1547.8 849.4L1548.1 854.0L1548.2 845.3L1549.1 850.6L1548.1 840.2L1548.1 847.3L1548.0 839.3L1549.5 844.9L1548.8 834.3L1549.1 841.4L1548.7 833.4L1548.3 836.6L1549.0 830.8L1549.5 834.3L1548.9 826.4L1549.4 830.7L1550.0 822.6L1548.9 827.0L1550.3 819.0L1549.5 826.4L1549.2 814.5L1550.8 823.0L1549.6 813.3L1551.0 819.5L1550.1 810.9L1550.1 816.0L1550.4 806.8L1551.7 814.4L1551.2 802.1L1550.8 811.4L1552.2 800.2L1552.7 808.7L1553.3 804.1L1553.7 814.2L1554.2 805.6L1553.3 815.0L1554.7 808.1L1554.8 817.3L1554.3 813.7L1554.1 821.3L1554.8 816.8L1554.4 825.3L1555.6 819.1L1555.4 830.8L1554.3 821.2L1554.5 830.9L1555.6 825.0L1555.4 835.3L1555.7 829.6L1554.9 837.5L1554.9 834.5L1556.3 843.8L1555.4 836.1L1555.3 846.4L1555.8 840.4L1556.5 850.2L1555.2 842.4L1555.5 852.3L1555.8 846.4L1555.8 855.4L1556.2 848.8L1556.6 858.1L1557.1 852.3L1557.0 860.0L1556.8 848.4L1557.3 855.8L1556.4 845.8L1556.5 849.6L1557.5 842.9L1557.0 846.4L1556.7 838.2L1557.4 844.8L1558.1 834.0L1558.3 840.7L1558.9 833.7L1558.4 839.2L1558.0 827.5L1558.7 836.2L1558.1 824.5L1558.5 832.6L1559.3 823.4L1558.7 828.1L1560.0 818.7L1559.5 825.9L1560.1 817.3L1559.5 820.9L1560.6 812.7L1561.5 819.9L1561.5 811.1L1561.2 822.2L1561.3 816.9L1562.0 826.0L1561.2 817.6L1562.1 829.9L1562.3 822.3L1562.6 830.4L1562.1 824.8L1562.6 833.6L1563.6 827.9L1563.6 837.9L1562.8 831.0L1563.1 842.2L1564.0 836.3L1563.1 845.1L1564.5 838.1L1565.0 846.8L1564.7 842.0L1564.6 850.3L1564.2 844.7L1565.0 856.0L1565.1 848.1L1565.4 858.0L1565.2 852.3L1565.8 860.2L1564.9 855.9L1565.6 864.7L1566.2 857.7L1567.1 866.0L1567.0 859.2L1568.1 869.1L1568.7 862.0L1568.3 867.8L1569.0 858.3L1569.1 863.4L1569.5 854.6L1569.3 860.8L1570.0 851.5L1569.2 855.5L1569.9 849.5L1570.3 852.5L1569.5 842.8L1570.2 852.0L1570.1 842.7L1570.3 849.9L1570.2 836.8L1571.4 845.5L1570.5 834.4L1571.6 842.0L1570.6 831.8L1571.9 838.9L1570.7 830.4L1571.5 833.4L1570.6 826.5L1571.1 832.2L1570.9 822.6L1572.0 828.3L1571.9 819.6L1572.3 826.3L1572.2 816.3L1572.6 821.1L1571.5 811.9L1572.7 817.6L1572.9 809.8L1573.0 817.4L1572.3 808.8L1573.0 814.3L1572.6 805.0L1572.6 812.0L1573.0 802.0L1574.0 808.9L1572.9 798.7L1574.0 803.1L1573.8 793.4L1573.7 800.7L1573.8 792.1L1574.6 796.7L1575.3 789.1L1575.6 792.8L1574.9 786.0L1575.0 792.5L1575.3 779.6L1577.2 791.1L1576.9 784.1L1577.2 792.2L1577.7 788.5L1578.6 796.6L1578.2 791.4L1578.3 798.2L1579.1 795.4L1579.5 802.1L1580.2 797.9L1580.6 808.2L1581.0 801.3L1581.2 809.5L1581.2 803.5L1580.9 811.8L1581.4 807.1L1581.7 816.9L1581.2 811.7L1581.1 818.8L1581.4 812.6L1581.0 822.2L1582.5 814.3L1582.4 826.3L1582.4 817.3L1582.8 828.6L1582.5 820.7L1582.8 832.4L1582.6 825.1L1583.0 837.0L1584.0 826.9L1584.0 836.4L1582.7 832.8L1584.0 841.8L1583.2 837.0L1583.3 843.2L1583.2 837.5L1583.4 846.5L1584.2 843.3L1584.7 851.7L1584.8 844.0L1584.7 853.3L1584.3 848.6L1584.4 859.2L1584.6 850.0L1585.0 858.9L1584.4 854.2L1585.5 862.8L1584.7 858.2L1585.3 866.7L1586.3 860.4L1585.5 869.6L1586.1 865.5L1586.1 871.6L1586.8 865.7L1587.4 877.1L1586.8 870.2L1587.3 878.5L1587.6 873.6L1587.2 882.8L1588.5 876.2L1588.2 885.1L1589.1 879.8L1589.1 889.3L1589.7 882.7L1591.0 892.1L1590.9 886.1L1591.4 894.7L1591.1 887.8L1591.2 899.8L1591.7 892.8L1592.4 901.1L1592.2 894.1L1592.4 903.9L1593.9 899.8L1593.3 909.9L1595.0 903.8L1594.9 911.6L1595.7 905.5L1595.9 916.0L1595.0 906.2L1596.2 910.6L1595.6 900.5L1597.2 909.4L1596.2 898.4L1598.0 906.6L1597.9 896.2L1597.8 904.0L1597.7 894.6L1597.2 900.9L1598.2 887.8L1597.4 894.1L1598.3 886.7L1598.0 891.5L1598.6 882.0L1598.6 889.1L1598.3 880.5L1598.4 885.5L1598.5 874.9L1599.1 881.5L1598.9 872.3L1598.5 881.5L1599.5 872.2L1599.1 876.1L1598.9 867.0L1599.6 874.0L1599.8 865.1L1599.7 869.8L1598.8 859.6L1599.5 865.9L1600.1 857.7L1599.8 865.9L1599.3 854.3L1599.8 859.8L1599.8 849.3L1600.2 856.5L1600.2 847.6L1599.8 855.0L1599.9 843.7L1600.0 852.5L1599.9 843.1L1600.1 846.3L1601.0 836.4L1600.4 843.6L1601.2 833.8L1600.3 840.7L1600.7 833.7L1600.4 837.9L1600.3 830.4L1601.1 834.3L1601.7 823.8L1601.4 831.0L1601.6 823.2L1601.9 828.4L1601.7 818.3L1601.9 826.7L1601.6 817.7L1601.9 824.4L1601.6 814.0L1602.3 819.1L1603.4 811.3L1602.4 814.2L1603.0 805.9L1603.4 816.8L1603.7 810.6L1603.8 817.5L1604.8 812.2L1603.7 821.3L1605.0 816.3L1605.1 826.8L1604.4 818.2L1604.7 827.4L1605.7 821.4L1605.2 831.6L1606.1 826.7L1605.9 837.3L1605.6 827.2L1606.9 837.3L1606.0 827.0L1606.5 830.5L1607.4 822.2L1607.4 828.6L1607.0 817.3L1606.6 824.2L1607.9 815.6L1607.9 824.2L1608.0 812.2L1608.2 819.0L1607.4 810.2L1608.7 815.7L1607.4 805.6L1609.1 812.9L1608.5 803.1L1608.8 809.5L1608.7 797.9L1609.5 807.0L1609.4 795.4L1610.5 804.1L1612.5 797.5L1613.8 804.6L1613.7 798.1L1613.2 806.9L1613.0 802.1L1614.0 811.5L1614.0 807.4L1614.2 816.5L1614.6 808.9L1614.4 816.5L1614.1 812.8L1613.9 820.0L1615.5 814.8L1615.0 822.6L1615.7 811.8L1615.1 818.1L1616.1 807.2L1615.0 816.7L1615.9 806.6L1616.2 811.1L1616.4 802.4L1616.3 807.0L1616.9 797.5L1616.9 804.7L1617.0 797.8L1616.8 801.7L1616.9 793.8L1616.4 798.9L1616.8 791.1L1617.1 794.3L1616.7 784.5L1617.0 794.3L1618.0 785.0L1618.5 789.8L1618.4 780.4L1618.8 786.1L1620.4 776.2L1620.0 783.7L1621.7 775.6L1620.9 780.1L1622.7 772.5L1622.9 780.0L1623.4 770.1L1623.8 774.3L1624.3 765.2L1626.6 773.3L1627.3 762.4L1627.5 771.8L1628.0 767.8L1627.6 775.8L1628.3 772.0L1628.3 781.3L1628.8 773.7L1629.0 783.4L1629.3 776.7L1629.7 784.7L1630.1 779.8L1630.4 788.2L1630.5 783.9L1630.4 792.0L1629.8 787.4L1630.7 796.3L1631.4 787.6L1631.6 800.4L1630.7 793.7L1630.8 802.8L1631.1 796.2L1631.1 806.5L1631.4 799.7L1632.2 808.9L1631.5 801.5L1632.4 811.4L1632.5 803.7L1633.2 815.9L1632.6 810.1L1632.9 815.6L1633.4 811.5L1633.9 822.2L1634.1 813.8L1633.7 824.9L1634.4 818.9L1635.0 827.0L1634.7 822.2L1635.4 830.2L1635.5 822.7L1635.4 833.9L1635.6 828.4L1636.3 838.5L1635.2 832.5L1636.0 838.2L1636.1 834.4L1635.9 844.3L1636.5 835.1L1636.0 845.8L1636.8 839.0L1636.6 848.2L1636.6 843.0L1637.7 853.3L1637.6 845.1L1637.0 855.9L1637.8 848.8L1637.2 857.8L1637.8 853.8L1637.2 861.2L1638.0 855.5L1638.5 865.8L1637.9 857.7L1637.5 869.0L1639.0 863.2L1637.9 870.2L1637.8 864.7L1638.6 876.4L1639.4 870.8L1638.7 877.3L1638.8 874.0L1639.0 880.8L1639.5 875.1L1640.5 883.0L1640.6 875.2L1641.1 883.3L1641.3 872.0L1642.5 880.2L1641.3 871.0L1642.5 877.0L1642.0 867.7L1641.9 873.1L1643.3 864.6L1642.9 868.9L1643.5 861.2L1643.1 868.2L1643.2 859.4L1643.9 864.9L1643.1 855.1L1644.6 860.7L1644.0 852.8L1644.0 857.9L1645.1 847.4L1645.4 853.9L1644.1 845.6L1644.7 849.2L1644.5 840.0L1645.9 846.4L1644.8 836.5L1645.1 843.9L1645.3 836.5L1645.2 841.4L1646.5 833.9L1646.2 836.8L1646.9 827.2L1647.2 835.3L1646.1 824.8L1646.2 833.1L1646.7 820.9L1646.9 829.8L1647.3 820.5L1647.5 825.3L1647.1 816.0L1647.9 823.2L1647.7 812.5L1647.7 819.3L1647.9 808.6L1648.0 815.1L1647.9 807.4L1648.9 811.6L1648.3 801.7L1648.8 808.4L1649.1 798.8L1649.9 808.1L1649.8 797.7L1650.0 801.4L1650.5 792.4L1651.1 801.4L1650.9 789.3L1650.6 797.1L1650.6 785.6L1651.4 792.3L1652.4 783.7L1651.4 791.9L1652.3 780.5L1653.0 786.5L1652.4 777.7L1652.5 785.1L1653.3 776.2L1653.0 779.8L1654.0 770.1L1654.6 779.6L1654.6 767.5L1654.5 774.5L1655.7 766.7L1655.7 772.2L1655.3 762.2L1656.9 770.4L1656.8 757.7L1656.7 767.2L1658.2 754.8L1658.5 765.8L1658.6 760.9L1660.1 799.4L1661.5 779.3L1662.7 811.5L1664.0 786.1L1665.3 814.4L1666.3 819.5L1667.0 786.3L1668.8 808.7L1669.2 769.5L1670.2 777.8L1671.6 828.3L1673.1 777.4L1674.7 853.8L1676.3 816.3L1677.8 860.9L1678.7 865.5L1679.5 832.0L1681.0 862.4L1682.6 827.0L1682.7 831.8L1683.9 859.2L1685.2 827.1L1686.9 857.8L1688.3 833.3L1689.3 871.2L1689.8 866.7L1691.6 829.6L1692.8 863.6L1694.6 820.5L1696.1 848.6L1696.9 816.5L1697.4 815.6L1698.6 843.4L1700.4 824.5L1701.9 856.1L1703.6 833.1L1705.0 873.2L1706.3 844.4L1707.7 878.3L1708.4 883.7L1709.0 849.8L1710.4 874.4L1712.0 840.0L1713.7 862.5L1715.3 820.8L1716.8 855.9L1718.3 815.5L1719.7 835.3L1720.9 807.9L1722.2 838.4L1723.7 800.5L1723.8 794.4L1725.1 832.9L1726.8 796.0L1727.6 842.5L1728.3 833.1L1729.7 789.2L1731.0 823.4L1732.6 781.4L1733.8 812.2L1735.5 771.5L1736.2 768.6L1736.9 797.1L1738.4 774.8L1739.8 806.4L1741.5 782.8L1743.1 826.4L1744.5 791.2L1745.9 837.5L1747.4 806.5L1749.1 837.8L1750.5 816.2L1751.5 842.5L1752.0 841.5L1753.5 807.8L1754.8 837.0L1756.4 796.4L1757.7 824.3L1759.4 785.9L1760.9 816.2L1762.2 789.9L1763.9 813.4L1765.6 783.1L1767.0 809.1L1768.2 776.0L1768.8 774.3L1769.7 815.8L1771.5 785.7L1772.8 829.7L1774.4 804.4L1775.7 840.4L1777.1 814.7L1778.6 844.2L1780.1 815.3L1781.2 847.3L1781.4 841.8L1782.7 818.0L1784.2 839.9L1785.8 809.4L1787.3 835.0L1789.0 796.3L1790.6 832.2L1792.2 788.1L1793.8 821.8L1795.3 780.9L1795.6 780.1L1797.0 823.7L1798.6 790.1L1799.8 821.0L1801.1 800.1L1802.7 829.8L1803.3 832.0L1804.0 800.0L1805.3 828.7L1806.6 792.1L1808.1 825.1L1809.4 790.7L1810.8 814.9L1810.9 784.9L1812.4 795.2L1813.9 821.2L1815.5 800.6L1817.3 834.1L1818.5 802.3L1819.9 834.3L1821.6 811.1L1822.9 842.9L1824.5 812.2L1826.0 853.0L1827.6 821.5L1829.1 866.4L1829.3 859.4L1830.8 824.6L1832.5 855.9L1834.0 811.4L1835.3 841.4L1836.7 797.2L1838.1 831.9L1839.5 792.6L1840.7 820.3L1841.6 781.0L1842.0 785.2L1843.3 816.5L1844.8 788.3L1846.3 814.6L1847.7 774.6L1849.3 806.5L1850.5 771.9L1852.2 797.7L1853.1 760.9L1853.4 762.9L1855.0 799.5L1856.4 773.5L1857.8 805.0L1859.6 783.5L1861.4 810.7L1862.6 789.8L1864.1 811.6L1864.6 815.7L1865.3 791.5L1866.8 816.2L1868.1 787.4L1868.4 784.9L1869.7 818.5L1871.5 797.6L1872.2 829.1L1873.3 824.4L1874.9 804.0L1876.6 827.2L1878.3 804.2L1879.8 828.2L1881.5 801.5L1881.8 799.2L1883.1 830.0L1884.3 808.3L1885.6 835.7L1887.1 811.2L1888.6 839.5L1890.3 819.6L1891.9 850.1L1893.2 830.4L1894.9 861.3L1896.7 837.1L1898.1 871.6L1899.7 842.1L1901.0 872.5L1902.4 843.7L1903.7 878.4L1905.3 851.4L1906.3 883.7L1906.8 879.5L1908.6 845.8L1910.3 869.7L1912.0 833.9L1913.4 863.2L1914.7 832.1L1916.2 863.3L1917.9 820.6L1919.5 848.1L1921.0 795.2L1922.5 832.6L1923.9 797.8L1924.9 792.5L1925.1 822.2L1926.4 795.1L1928.1 822.9L1929.6 799.5L1931.0 826.2L1931.2 829.1L1932.2 801.4L1933.6 826.6L1934.9 778.7L1936.4 810.0L1938.0 756.0" stroke="#000" stroke-width="7.5"/>
<path d="M284.5 946.2L284.5 944.5L284.7 943.6L284.6 942.0L284.7 941.0L284.6 939.3L284.6 938.4L284.6 936.8L284.7 935.8L284.7 934.2L284.7 933.3L284.7 931.6L284.6 930.6L284.8 929.0L284.7 928.1L284.7 926.4L284.7 925.4L284.8 923.8L284.8 922.9L284.7 921.2L284.7 920.3L284.7 918.7L284.8 917.7L284.7 916.1L284.7 915.1L284.8 913.5L284.7 912.5L284.8 910.9L284.9 909.9L284.8 908.4L284.9 907.3L284.9 905.7L284.9 904.7L284.9 903.1L284.8 902.1L284.8 900.5L284.8 899.6L285.0 898.0L284.8 897.0L284.8 895.4L284.9 894.4L284.8 892.8L284.9 891.8L284.8 890.2L284.9 889.2L285.0 887.6L284.9 886.6L285.1 885.0L284.9 884.0L285.0 882.4L285.1 881.5L285.1 879.9L284.9 878.9L285.1 877.3L284.9 876.3L285.0 874.7L285.0 873.7L285.1 872.1L285.0 871.1L285.1 869.5L285.1 868.6L285.1 866.9L285.0 866.0L285.0 864.3L285.2 863.4L285.1 861.8L285.2 860.8L285.1 859.2L285.2 858.2L285.3 856.6L285.2 855.7L285.3 854.0L285.3 853.1L285.3 851.5L285.3 850.5L285.3 848.9L285.3 847.9L285.3 846.2L285.3 845.4L285.3 843.7L285.2 842.7L285.2 841.2L285.3 840.1L285.3 838.4L285.3 837.6L285.3 836.0L285.3 835.0L285.4 833.4L285.4 832.5L285.4 830.8L285.5 829.8L285.5 828.2L285.3 827.2L285.4 825.6L285.5 824.7L285.4 823.1L285.5 822.1L285.4 820.5L285.4 819.6L285.5 817.9L285.5 817.0L285.4 815.3L285.6 814.4L285.6 812.8L285.6 811.8L285.6 810.2L285.4 809.2L285.6 807.5L285.5 806.6L285.5 805.0L285.6 804.0L285.7 802.4L285.6 801.5L285.6 799.8L285.5 798.9L285.6 797.2L285.5 796.2L285.6 794.6L285.6 793.7L285.6 792.0L285.6 791.1L285.7 789.5L285.7 788.5L285.7 786.9L285.7 785.9L285.7 784.2L285.8 783.3L285.7 781.7L285.7 780.7L285.8 779.1L285.7 778.1L285.7 776.5L285.8 775.5L285.8 773.8L285.8 772.9L285.7 771.2L285.7 770.3L285.7 768.7L285.9 767.7L285.8 766.0L285.7 765.1L285.8 763.5L285.9 762.6L285.8 760.8L285.8 759.9L285.9 758.2L285.8 757.3L285.9 755.6L285.8 754.8L285.9 753.1L285.9 752.1L285.9 750.5L285.9 749.5L286.0 747.9L285.9 746.9L286.0 745.3L286.0 744.3L286.0 742.7L286.0 741.8L286.0 740.1L286.0 739.1L286.1 737.5L286.0 736.6L286.1 734.8L286.1 734.0L286.1 732.3L286.1 731.4L286.2 729.7L286.1 728.8L286.1 727.1L286.0 726.2L286.2 724.5L286.2 723.6L286.1 721.8L286.1 720.9L286.1 719.3L286.3 718.4L286.3 716.7L286.3 715.8L286.3 714.1L286.1 713.2L286.1 711.5L286.3 710.7L286.3 708.9L286.1 708.0L286.4 706.3L286.3 705.4L286.2 703.7L286.3 702.8L286.3 701.0L286.3 700.1L286.4 698.5L286.3 697.6L286.2 695.9L286.4 695.0L286.3 693.3L286.5 692.3L286.5 690.7L286.5 689.8L286.4 688.0L286.4 687.1L286.5 685.5L286.4 684.5L286.5 682.9L286.4 681.9L286.4 680.2L286.4 679.4L286.6 677.7L286.6 676.7L286.6 675.1L286.5 674.1L286.7 672.4L286.5 671.5L286.7 669.8L286.7 668.9L286.7 667.2L286.7 666.3L286.5 664.6L286.7 663.7L286.7 662.0L286.7 661.1L286.6 659.4L286.6 658.5L286.9 656.8L286.9 655.8L286.7 654.1L286.7 653.2L286.7 651.6L286.8 650.6L286.9 648.9L286.9 648.0L286.9 646.3L286.9 645.4L287.0 643.7L286.9 642.8L286.9 641.1L286.9 640.2L287.0 638.5L286.8 637.7L286.9 635.9L286.9 635.1L286.9 633.4L286.9 632.6L287.1 630.9L286.9 630.0L287.1 628.3L287.2 627.4L287.2 625.8L287.2 625.0L287.1 623.3L287.3 622.4L287.1 620.7L287.2 619.8L287.2 618.2L287.2 617.3L287.3 615.6L287.2 614.8L287.2 613.2L287.2 613.2L287.3 613.2L287.4 614.8L287.2 615.7L287.5 617.4L287.4 618.3L287.3 620.0L287.5 620.9L287.4 622.5L287.4 623.5L287.6 625.2L287.4 626.1L287.6 627.8L287.5 628.7L287.5 630.4L287.5 631.3L287.5 633.0L287.5 633.8L287.6 635.5L287.6 636.4L287.7 638.2L287.6 639.0L287.7 640.8L287.5 641.7L287.5 643.4L287.6 644.3L287.5 645.9L287.7 646.8L287.6 648.6L287.7 649.4L287.8 651.1L287.8 652.0L287.8 653.7L287.7 654.6L287.7 656.4L287.9 657.2L287.8 658.9L287.9 659.8L287.8 661.6L287.9 662.4L287.8 664.2L288.0 665.1L287.8 666.8L287.9 667.7L287.8 669.4L287.9 670.3L288.0 672.0L287.9 672.9L288.0 674.7L287.9 675.5L288.1 677.4L288.0 678.2L287.9 679.9L288.0 680.8L287.9 682.5L288.0 683.5L288.1 685.2L288.2 686.1L288.2 687.8L288.2 688.8L288.2 690.5L288.1 691.4L288.3 693.1L288.2 694.0L288.2 695.8L288.1 696.6L288.3 698.4L288.4 699.3L288.4 701.0L288.3 701.9L288.4 703.8L288.4 704.5L288.4 706.2L288.4 707.2L288.2 708.9L288.5 709.7L288.3 711.5L288.6 712.3L288.6 714.1L288.5 714.9L288.5 716.7L288.6 717.5L288.4 719.3L288.5 720.2L288.7 721.9L288.5 722.7L288.6 724.5L288.5 725.2L288.7 727.2L288.6 728.0L288.7 729.7L288.7 730.5L288.8 732.2L288.6 733.1L288.8 734.8L288.6 735.8L288.6 737.4L288.8 738.3L288.8 740.0L288.6 740.8L288.6 742.6L288.9 743.5L288.8 745.3L288.7 746.1L288.8 747.9L288.8 748.6L288.8 750.4L289.0 751.3L288.8 753.2L289.0 753.8L289.0 755.6L288.8 756.4L288.9 758.2L288.9 759.1L289.1 760.8L289.1 761.7L289.1 763.4L288.9 764.2L288.9 765.9L289.2 766.9L289.2 768.5L289.0 769.3L289.0 771.2L289.0 772.0L289.1 773.7L289.0 774.6L289.1 776.4L289.1 777.2L289.2 779.0L289.1 779.6L289.1 781.5L289.4 782.4L289.3 784.1L289.3 785.0L289.2 786.9L289.4 787.7L289.3 789.4L289.4 790.3L289.3 792.1L289.5 793.0L289.2 794.7L289.5 795.6L289.3 797.4L289.3 798.2L289.3 800.0L289.4 800.9L289.4 802.6L289.6 803.4L289.4 805.3L289.4 806.1L289.6 807.9L289.6 808.7L289.6 810.4L289.5 811.3L289.7 813.1L289.6 814.0L289.7 815.7L289.7 816.7L289.8 818.4L289.7 819.2L289.8 821.1L289.8 821.8L289.8 823.7L289.7 824.4L289.6 826.2L289.9 827.1L289.8 829.0L289.8 829.8L289.8 831.5L289.7 832.4L289.9 834.1L290.0 834.9L289.8 836.8L289.9 837.6L289.9 839.3L290.1 840.2L290.1 841.9L290.1 842.7L290.1 844.6L290.1 845.4L290.2 847.1L290.2 847.9L290.1 849.8L290.0 850.5L290.2 852.3L290.4 853.0L290.1 854.8L290.2 855.7L290.3 857.5L290.3 858.2L290.2 860.0L290.4 860.9L290.2 862.7L290.4 863.5L290.4 865.3L290.4 866.0L290.4 867.8L290.4 868.7L290.4 870.4L290.5 871.2L290.6 873.1L290.5 873.9L290.5 875.6L290.5 876.5L290.7 878.3L290.5 879.1L290.8 880.8L290.7 881.6L290.6 883.4L290.8 884.2L290.6 886.0L290.6 886.7L290.8 888.6L290.9 889.4L290.8 891.2L290.8 892.0L290.9 893.8L290.8 894.5L291.0 896.3L291.0 897.2L290.9 899.0L290.9 899.7L290.9 901.6L291.2 902.4L291.1 904.2L291.3 905.0L291.3 906.9L291.4 907.7L291.5 909.5L291.4 910.3L291.5 912.1L291.6 912.8L291.5 914.7L291.8 915.5L291.7 917.3L291.6 918.1L291.8 919.9L291.7 920.8L291.9 922.6L291.9 923.4L292.1 925.2L292.1 926.1L292.3 928.0L292.0 928.6L292.2 930.5L292.4 931.3L292.2 933.1L292.4 933.9L292.4 935.7L292.6 936.5L292.6 938.5L292.6 939.2L292.6 941.0L292.6 941.8L292.6 943.8L292.8 944.4L293.0 946.3L293.1 947.2L292.9 948.9L293.0 949.8L292.9 951.5L292.9 952.3L293.3 954.2L293.1 954.9L293.1 956.7L293.4 957.4L293.4 959.3L293.4 960.1L293.3 961.9L293.3 962.7L293.7 964.5L293.5 965.1L293.7 967.2L293.5 967.7L293.6 969.7L293.7 970.3L293.9 972.2L293.8 972.9L293.9 974.9L293.9 975.6L294.1 977.4L293.9 978.1L294.3 980.1L294.2 980.6L294.3 982.6L294.4 983.2L294.2 985.2L294.3 985.7L294.4 987.7L294.6 988.4L294.7 990.4L294.7 991.0L294.9 993.0L294.7 993.6L295.1 995.5L295.1 996.2L295.3 998.2L295.3 998.7L295.6 1000.8L295.8 1001.4L295.8 1003.5L295.8 1004.0L295.9 1006.0L296.4 1006.7L296.3 1008.7L296.5 1009.4L296.8 1011.3L296.8 1011.9L296.6 1013.9L296.9 1014.3L297.3 1016.5L297.3 1017.1L297.3 1019.0L297.2 1019.8L297.3 1021.7L297.3 1022.3L297.3 1024.4L297.3 1025.0L297.7 1027.0L297.4 1027.5L297.7 1029.6L297.7 1030.1L297.6 1032.3L297.7 1032.8L297.8 1034.8L297.7 1035.3L298.0 1037.5L297.8 1037.9L298.1 1039.9L298.2 1040.6L298.0 1042.7L298.2 1043.3L298.2 1045.3L298.0 1045.8L298.3 1047.9L298.4 1048.5L298.5 1050.5L298.5 1051.0L298.2 1053.1L298.7 1053.7L298.6 1055.7L298.6 1056.2L298.4 1058.3L298.5 1059.0L298.6 1061.0L298.9 1061.6L298.7 1063.6L298.7 1064.1L298.6 1066.3L299.0 1066.8L298.8 1068.8L298.9 1069.3L299.2 1071.3L299.1 1071.9L298.9 1074.1L299.0 1074.5L299.2 1076.6L299.5 1077.0L299.4 1079.2L299.3 1079.6L299.5 1081.6L299.8 1082.3L299.8 1084.4L300.0 1084.8L299.8 1086.9L300.2 1087.3L300.3 1089.5L300.1 1089.9L300.4 1092.0L300.4 1092.5L300.3 1094.4L300.8 1095.0L300.9 1097.0L301.1 1097.4L301.1 1099.7L300.8 1100.1L301.2 1102.1L301.0 1102.7L301.1 1104.8L301.4 1105.1L301.8 1107.3L301.6 1107.6L301.9 1109.8L301.8 1110.2L301.9 1112.5L301.9 1112.8L302.4 1115.0L302.5 1115.5L302.6 1117.6L302.7 1118.0L302.7 1120.2L303.0 1120.7L303.0 1122.9L303.6 1123.2L303.7 1125.4L303.6 1125.9L303.7 1128.0L303.9 1128.5L304.1 1130.7L304.2 1130.9L304.3 1133.4L304.7 1133.5L304.8 1135.9L304.9 1136.2L305.5 1138.6L305.4 1138.8L305.7 1141.3L305.9 1141.4L306.1 1143.7L306.4 1143.8L307.4 1146.4L307.8 1146.4L308.1 1148.7L307.9 1148.8L309.0 1151.4L309.2 1151.0L309.5 1153.6L309.8 1153.6L310.8 1156.2L311.1 1155.9L311.3 1158.6L311.4 1158.6L312.2 1161.0L313.4 1160.3L314.2 1163.0L315.8 1162.3L316.7 1164.7L317.0 1164.1L318.6 1166.8L319.3 1165.7L320.1 1168.7L321.2 1167.0L322.5 1169.7L324.0 1167.8L325.3 1170.1L327.0 1168.3L328.4 1170.7L329.5 1168.8L330.4 1171.9L331.7 1169.0L332.9 1172.0L334.5 1168.9L335.5 1170.7L336.6 1167.9L337.6 1170.3L339.2 1167.0L340.8 1169.9L342.3 1167.1L343.3 1168.9L344.7 1165.9L346.1 1168.1L346.8 1165.6L348.4 1167.3L349.7 1164.1L350.7 1166.8L351.3 1163.2L352.5 1165.6L354.4 1162.9L355.5 1164.4L356.2 1161.8L358.0 1163.6L358.7 1160.6L360.0 1162.5L360.8 1159.8L362.1 1161.7L363.5 1158.3L365.2 1160.6L366.2 1157.5L367.7 1159.4L368.0 1156.3L369.3 1158.9L370.5 1155.7L371.7 1157.4L372.8 1154.3L374.3 1156.5L374.9 1153.1L376.5 1154.9L377.0 1151.7L378.2 1154.3L379.2 1150.5L381.0 1152.5L381.6 1149.7L383.0 1151.5L384.4 1148.1L385.0 1150.9L385.7 1146.6L387.5 1149.2L388.2 1145.7L389.5 1147.6L390.7 1144.5L391.6 1146.7L392.5 1143.6L394.2 1145.7L395.0 1141.9L396.2 1143.8L397.5 1141.2L398.6 1143.3L399.1 1139.7L400.0 1141.4L401.4 1138.6L402.5 1140.4L403.6 1137.0L405.2 1139.2L406.3 1135.7L407.2 1137.3L408.6 1133.8L409.2 1136.0L410.6 1132.3L411.3 1134.4L412.7 1130.8L413.4 1133.3L414.6 1129.7L416.0 1131.9L416.8 1127.8L417.7 1130.1L418.3 1126.0L419.5 1128.0L420.5 1124.5L421.8 1126.8L422.7 1122.7L422.9 1124.4L424.4 1120.9L425.2 1122.7L425.9 1119.0L426.7 1120.8L427.7 1117.5L428.6 1119.0L429.6 1115.6L430.7 1117.8L430.8 1113.4L432.4 1115.2L432.9 1111.6L433.6 1113.6L434.2 1109.7L435.3 1111.0L435.7 1107.4L436.9 1108.7L436.6 1105.4L437.9 1107.3L438.9 1102.7L439.4 1104.5L439.7 1100.8L440.3 1102.3L441.6 1098.8L441.7 1100.3L442.6 1096.7L444.1 1099.0L444.3 1095.2L446.1 1097.0L446.6 1093.3L447.5 1095.3L448.3 1091.4L449.4 1093.9L450.3 1089.5L451.1 1092.0L452.0 1088.2L453.6 1090.1L454.4 1087.0L455.6 1089.0L456.4 1085.1L456.8 1087.1L458.0 1082.9L458.6 1085.2L459.2 1081.2L460.4 1083.0L461.5 1079.2L461.7 1081.4L462.9 1077.6L463.5 1079.5L464.4 1075.2L465.2 1077.4L466.7 1073.0L467.5 1075.2L467.8 1071.6L468.6 1074.5L470.2 1069.9L470.7 1071.7L471.3 1068.3L472.0 1069.7L473.1 1065.8L473.9 1068.0L475.3 1064.7L475.8 1066.6L476.9 1062.0L477.6 1064.9L478.4 1060.6L479.5 1062.5L480.4 1058.1L481.5 1062.1L482.5 1057.6L483.4 1060.3L484.6 1057.1L486.7 1058.9L487.7 1055.4L488.8 1057.9L489.9 1054.1L490.3 1055.9L491.7 1052.6L492.2 1054.5L493.2 1050.4L494.4 1052.7L495.3 1048.8L495.8 1050.3L496.5 1046.6L497.4 1048.3L498.9 1044.7L499.3 1046.8L500.0 1043.1L501.6 1044.4L501.8 1041.2L503.5 1042.5L504.0 1038.6L505.1 1040.6L505.7 1037.4L507.5 1039.4L508.2 1035.1L509.4 1036.9L509.7 1033.7L511.4 1035.7L512.3 1032.1L513.4 1034.7L514.4 1030.9L515.3 1033.3L517.1 1030.1L517.6 1032.7L518.4 1028.7L519.9 1030.9L520.8 1028.0L521.7 1030.4L523.1 1026.7L524.8 1029.1L525.6 1025.3L526.3 1027.4L528.0 1023.6L529.2 1026.7L530.5 1022.6L530.7 1025.3L532.7 1020.5L533.8 1024.0L534.4 1020.0L535.8 1022.4L536.9 1018.7L537.5 1020.7L538.8 1017.6L540.1 1019.6L540.8 1016.1L542.1 1018.4L542.8 1014.8L544.3 1016.7L544.7 1013.4L546.3 1015.8L546.8 1012.1L548.2 1014.0L549.5 1010.4L550.3 1013.2L551.6 1009.2L552.4 1011.8L553.9 1007.8L554.2 1010.3L556.1 1005.8L556.5 1009.3L557.6 1005.8L559.2 1007.8L559.8 1004.9L561.6 1007.0L562.2 1004.3L563.6 1007.6L564.8 1003.7L566.4 1005.9L567.2 1002.4L568.7 1004.9L569.7 1002.0L571.1 1005.1L572.9 1001.7L573.7 1004.4L575.2 1001.9L576.7 1005.0L578.0 1001.3L579.3 1004.6L580.7 1001.8L582.2 1004.0L583.6 1000.7L584.5 1003.3L585.2 1000.2L586.9 1002.8L588.3 998.7L588.6 1001.5L590.4 998.2L591.4 1000.9L592.5 997.2L593.6 1000.1L595.0 996.3L596.4 999.3L597.9 995.3L598.7 998.2L600.1 994.8L601.0 997.8L602.9 993.6L603.8 997.1L604.8 993.8L605.8 997.0L607.2 992.1L608.5 995.9L610.1 992.0L611.6 995.2L612.4 991.7L613.8 994.4L615.7 990.7L617.0 993.6L618.3 990.5L618.8 993.7L620.0 990.4L621.9 993.2L622.7 989.2L624.2 992.0L625.4 989.4L626.6 991.9L628.4 988.4L629.5 990.8L631.1 987.6L631.9 991.1L632.7 987.9L634.8 990.3L635.3 986.7L637.3 989.9L638.4 986.5L639.3 989.7L641.0 986.3L642.0 989.2L643.2 986.0L644.6 988.9L645.5 985.5L647.0 988.6L648.6 984.9L649.3 988.8L650.8 984.4L652.6 988.0L653.1 984.5L655.4 987.2L656.0 984.5L658.1 987.4L658.9 983.7L660.0 986.6L661.9 983.7L662.9 986.6L664.2 983.8L665.4 986.4L667.4 982.5L668.5 986.8L669.1 983.6L671.1 987.4L671.7 983.8L673.5 987.7L674.3 984.9L676.0 988.0L677.0 985.1L678.5 987.9L680.2 985.2L681.2 988.3L682.7 985.4L683.5 989.3L685.4 986.7L686.3 989.7L687.8 986.5L688.6 989.7L690.0 987.6L691.1 991.0L692.4 987.3L694.2 991.8L695.8 988.0L696.4 992.3L697.8 989.1L699.4 991.8L700.6 989.4L701.9 992.3L703.2 989.3L704.1 993.0L705.5 990.0L706.4 993.0L708.2 990.0L709.3 993.3L710.6 990.7L711.8 993.1L713.2 991.0L714.3 993.5L715.7 990.4L717.1 994.0L718.2 991.0L719.5 994.7L721.1 992.2L722.6 995.5L723.4 992.5L724.4 996.1L726.3 993.1L727.5 996.9L728.6 994.3L729.8 997.7L730.9 994.9L732.6 997.9L733.5 995.4L735.4 998.7L735.7 996.3L737.3 1000.1L739.1 996.5L739.4 1000.2L741.1 997.7L742.0 1001.7L743.6 998.7L744.5 1002.3L746.1 1000.0L746.8 1003.7L748.7 1000.8L749.2 1003.8L750.4 1001.7L751.8 1005.1L752.7 1002.0L753.9 1005.5L755.1 1003.3L756.5 1006.6L757.7 1003.9L759.7 1007.2L760.8 1004.0L761.5 1006.7L763.5 1003.9L764.1 1007.2L766.1 1004.6L767.4 1007.6L767.9 1004.5L769.6 1007.8L770.8 1005.3L772.1 1008.4L773.8 1005.9L775.1 1008.4L776.1 1006.1L777.4 1009.0L779.3 1006.5L780.1 1009.3L781.3 1006.2L782.2 1010.4L783.4 1007.7L784.9 1011.0L786.4 1008.3L787.1 1011.9L788.5 1009.6L789.5 1013.1L790.5 1010.6L791.7 1014.4L793.4 1012.0L794.7 1015.9L795.2 1013.5L796.2 1017.0L797.6 1014.1L798.9 1018.7L800.4 1015.0L801.8 1018.7L802.9 1015.7L803.4 1018.9L805.4 1016.6L806.0 1019.3L807.4 1017.1L808.7 1020.1L809.9 1016.9L811.8 1020.7L812.5 1018.1L814.0 1021.2L815.0 1018.0L816.5 1021.2L818.2 1019.2L818.8 1022.0L820.6 1019.1L821.6 1023.0L823.1 1020.4L824.3 1023.7L825.8 1021.0L827.2 1023.9L828.2 1021.5L829.6 1025.0L830.5 1021.7L831.8 1025.6L833.0 1022.2L834.2 1025.6L835.8 1022.9L837.5 1026.5L838.0 1023.8L840.0 1026.6L841.1 1024.1L842.6 1027.7L843.7 1024.0L845.0 1027.3L846.0 1024.2L847.2 1027.5L848.8 1024.0L849.9 1027.6L851.1 1024.3L852.2 1027.4L853.6 1025.3L855.0 1028.7L855.8 1026.3L857.1 1029.9L858.6 1027.1L859.8 1030.8L860.3 1028.2L861.6 1031.5L863.6 1029.0L863.9 1032.9L865.6 1030.8L867.2 1033.9L868.0 1031.5L869.0 1035.5L870.1 1032.8L871.9 1036.0L872.5 1034.0L874.0 1037.3L875.3 1034.3L876.2 1037.7L878.2 1034.7L879.5 1038.2L881.0 1035.8L881.7 1039.0L882.8 1037.0L883.9 1039.7L885.7 1037.6L887.2 1040.4L887.8 1038.0L889.6 1041.3L891.1 1038.5L891.8 1042.7L893.6 1039.5L894.8 1043.4L895.5 1040.5L896.7 1043.8L898.0 1040.9L899.4 1044.9L900.8 1042.0L902.1 1045.4L903.9 1042.5L904.6 1046.1L906.2 1043.2L907.7 1046.8L908.5 1044.3L909.5 1047.9L911.6 1045.0L912.8 1048.6L913.8 1045.2L914.8 1048.5L916.4 1046.2L917.9 1049.1L918.6 1046.0L919.7 1049.6L921.5 1046.9L922.4 1049.2L923.5 1046.2L925.2 1049.1L926.7 1046.3L927.4 1049.4L928.8 1045.4L929.9 1048.6L931.8 1045.6L932.5 1047.9L934.2 1044.6L935.5 1047.6L936.2 1045.2L937.7 1047.9L938.6 1045.8L940.2 1049.0L941.8 1046.3L942.3 1050.6L943.7 1047.2L944.7 1051.3L946.3 1048.2L946.7 1052.3L948.5 1049.1L949.4 1053.1L950.8 1050.3L952.2 1053.7L953.0 1050.5L954.4 1054.1L955.6 1051.3L957.3 1055.1L958.9 1052.4L959.3 1055.1L961.4 1052.7L962.2 1055.9L963.2 1053.7L964.4 1056.5L965.9 1054.1L966.9 1057.7L968.3 1054.4L970.1 1057.6L971.1 1055.4L972.4 1057.9L973.7 1055.6L975.2 1058.8L975.9 1055.8L976.8 1059.0L978.7 1056.9L979.2 1060.3L981.1 1057.7L982.4 1061.2L982.8 1058.1L984.0 1061.9L985.5 1059.7L987.0 1063.3L988.0 1061.0L989.2 1064.3L990.2 1061.9L990.7 1065.6L992.7 1062.7L993.0 1065.9L994.9 1062.3L995.9 1065.2L997.2 1061.3L998.2 1063.8L999.8 1060.6L1000.5 1063.9L1001.8 1060.0L1003.4 1063.0L1004.9 1059.1L1005.3 1062.0L1006.9 1058.9L1008.3 1062.5L1009.2 1060.1L1011.1 1063.6L1012.0 1061.1L1013.5 1064.9L1014.6 1062.4L1015.7 1065.4L1017.5 1063.3L1017.9 1066.2L1019.2 1064.0L1020.0 1067.7L1021.2 1065.3L1022.5 1068.7L1023.3 1066.9L1024.2 1070.8L1025.3 1068.4L1026.8 1071.3L1027.9 1067.7L1028.9 1071.4L1030.2 1067.8L1032.2 1070.5L1033.4 1066.1L1034.0 1070.0L1035.8 1067.3L1037.4 1070.0L1037.9 1067.1L1040.0 1070.6L1041.5 1067.4L1042.1 1070.6L1044.2 1067.7L1045.3 1071.6L1046.6 1068.2L1047.5 1071.4L1048.8 1069.4L1050.6 1072.4L1051.6 1070.5L1052.7 1073.9L1053.9 1071.2L1054.9 1074.5L1055.6 1072.2L1057.4 1075.5L1058.4 1073.3L1059.3 1076.6L1060.4 1074.3L1061.7 1077.7L1062.9 1075.5L1064.6 1078.3L1065.5 1075.0L1066.5 1079.4L1068.7 1076.3L1069.4 1080.5L1070.8 1077.0L1071.7 1080.7L1073.5 1078.1L1075.0 1081.0L1076.1 1078.3L1077.1 1080.6L1079.0 1077.7L1079.5 1080.9L1081.3 1077.3L1082.5 1080.5L1084.2 1077.6L1085.3 1080.1L1086.4 1077.5L1087.4 1080.3L1088.5 1077.1L1089.9 1080.9L1091.9 1076.8L1092.5 1080.9L1094.2 1077.1L1095.4 1080.3L1096.2 1077.4L1098.3 1080.1L1099.2 1077.6L1099.9 1080.8L1102.0 1077.6L1102.4 1081.9L1103.8 1078.9L1105.3 1082.9L1106.3 1079.4L1107.9 1084.2L1108.3 1080.9L1109.7 1084.2L1111.5 1080.0L1112.1 1083.5L1113.1 1078.4L1114.5 1082.7L1115.5 1078.1L1117.6 1081.1L1118.0 1076.9L1119.7 1080.4L1120.5 1076.1L1122.3 1080.9L1123.1 1076.6L1124.4 1081.4L1125.8 1077.0L1127.6 1081.0L1128.9 1076.6L1130.1 1081.7L1131.0 1077.0L1132.3 1081.1L1133.8 1077.1L1135.5 1081.3L1136.4 1076.6L1138.3 1081.1L1139.4 1076.8L1140.4 1081.1L1142.0 1077.6L1143.2 1082.2L1144.5 1076.9L1145.7 1081.4L1147.2 1077.4L1147.9 1082.1L1149.3 1078.3L1150.7 1082.4L1152.0 1077.4L1154.0 1083.4L1154.7 1078.6L1156.7 1083.5L1157.8 1078.5L1158.7 1084.1L1160.0 1078.9L1161.5 1083.6L1163.1 1079.0L1163.6 1083.5L1165.7 1079.0L1166.6 1084.5L1167.6 1079.3L1168.9 1084.6L1170.2 1080.4L1171.6 1085.3L1173.3 1078.7L1174.4 1084.3L1176.0 1079.4L1177.6 1084.6L1178.2 1078.9L1180.2 1083.3L1181.3 1078.9L1182.3 1084.2L1183.5 1078.7L1185.1 1083.6L1186.1 1078.4L1187.8 1083.5L1189.6 1079.0L1190.9 1084.1L1192.1 1079.6L1193.5 1085.0L1193.9 1080.0L1195.7 1086.0L1196.5 1081.6L1198.4 1086.6L1199.5 1081.1L1200.4 1087.2L1202.3 1081.9L1202.8 1087.4L1204.9 1083.0L1206.3 1087.7L1207.1 1083.1L1208.6 1088.3L1209.5 1082.9L1210.8 1088.2L1212.2 1082.5L1213.2 1089.1L1214.9 1082.7L1216.3 1089.5L1217.4 1084.1L1218.6 1089.3L1219.9 1084.0L1220.8 1089.2L1222.7 1083.3L1223.3 1089.1L1225.0 1082.8L1225.9 1088.8L1227.3 1083.5L1228.9 1090.3L1230.0 1084.1L1231.3 1089.6L1232.4 1083.8L1233.9 1088.8L1235.0 1082.3L1236.6 1088.1L1237.4 1083.0L1238.8 1088.1L1240.1 1083.7L1241.8 1088.2L1243.0 1082.3L1243.6 1088.9L1245.8 1082.9L1246.2 1088.6L1247.9 1081.7L1249.3 1087.5L1250.8 1080.9L1251.4 1087.2L1252.8 1081.6L1253.8 1086.3L1256.0 1080.3L1257.3 1085.1L1258.1 1078.5L1259.2 1084.6L1261.1 1078.3L1261.8 1084.8L1263.5 1079.5L1264.7 1085.7L1265.3 1080.0L1266.7 1085.5L1268.3 1080.1L1269.5 1086.1L1270.0 1080.9L1271.1 1086.1L1272.6 1080.3L1274.4 1085.6L1275.3 1080.7L1276.3 1086.3L1278.0 1080.6L1279.2 1087.7L1280.2 1079.5L1281.4 1085.9L1282.8 1080.0L1284.6 1085.4L1285.7 1079.3L1286.5 1085.9L1288.4 1079.5L1289.5 1084.5L1291.0 1077.8L1291.9 1084.9L1292.9 1077.9L1294.1 1084.6L1296.1 1077.6L1297.0 1082.7L1298.7 1075.9L1299.3 1082.8L1301.3 1076.4L1301.9 1082.3L1303.0 1075.6L1305.2 1082.6L1306.4 1074.5L1307.0 1081.1L1308.4 1074.8L1310.2 1080.2L1311.2 1072.9L1312.6 1079.8L1313.6 1074.3L1315.4 1079.5L1316.3 1073.0L1317.7 1080.6L1319.2 1073.7L1320.5 1079.0L1321.2 1073.3L1322.5 1078.9L1324.1 1071.8L1325.0 1080.2L1326.1 1071.9L1327.4 1078.0L1329.0 1070.7L1329.9 1077.9L1331.3 1070.9L1332.5 1078.2L1333.4 1070.0L1335.1 1077.8L1336.7 1069.9L1337.3 1077.6L1338.8 1070.7L1340.2 1077.9L1340.7 1070.6L1342.1 1077.6L1343.6 1069.8L1344.3 1078.9L1345.9 1070.8L1347.4 1077.6L1348.1 1072.2L1349.8 1077.5L1350.7 1069.6L1351.7 1077.9L1353.6 1071.0L1354.7 1077.5L1356.1 1068.9L1357.4 1075.8L1358.4 1069.0L1360.0 1076.5L1361.3 1068.5L1362.6 1075.6L1363.6 1067.4L1364.9 1074.1L1366.1 1066.9L1367.5 1075.4L1368.4 1066.0L1369.6 1075.3L1371.6 1066.8L1372.8 1073.6L1373.6 1067.0L1375.2 1073.3L1376.6 1067.0L1377.8 1072.5L1379.3 1065.9L1379.8 1074.4L1381.8 1066.6L1382.5 1072.2L1384.3 1065.9L1385.7 1073.2L1386.7 1065.7L1387.8 1073.6L1388.8 1064.9L1390.0 1072.2L1391.3 1064.4L1393.1 1072.9L1394.1 1064.3L1395.2 1070.9L1396.6 1064.1L1398.1 1070.7L1399.2 1062.6L1400.7 1071.6L1401.9 1062.7L1403.4 1072.5L1404.3 1059.9L1405.7 1071.1L1407.4 1061.1L1407.8 1071.0L1409.6 1062.1L1410.7 1068.5L1411.9 1061.5L1412.6 1069.1L1414.3 1060.6L1415.7 1068.2L1416.6 1060.9L1418.0 1068.7L1419.0 1061.2L1419.9 1067.8L1421.5 1061.7L1422.8 1070.0L1423.9 1060.2L1425.6 1070.2L1426.9 1061.6L1427.9 1070.9L1429.0 1062.5L1430.2 1072.8L1432.4 1063.4L1432.8 1073.8L1434.6 1062.6L1435.5 1073.6L1437.2 1062.2L1438.0 1070.6L1439.0 1063.5L1440.1 1070.8L1441.7 1061.7L1443.2 1068.6L1443.7 1059.4L1445.0 1069.1L1446.1 1057.6L1447.5 1066.4L1449.2 1057.0L1449.9 1065.6L1450.9 1057.4L1452.5 1066.8L1453.3 1057.6L1454.9 1066.6L1455.5 1059.1L1457.5 1068.4L1458.0 1060.2L1459.4 1069.5L1460.8 1060.3L1461.8 1069.0L1462.8 1061.6L1464.8 1070.1L1465.6 1059.9L1467.3 1069.6L1468.5 1062.3L1469.7 1069.7L1471.0 1062.5L1472.7 1070.2L1473.5 1060.6L1475.0 1070.7L1476.5 1061.0L1477.3 1070.9L1478.6 1060.2L1480.2 1070.1L1480.7 1060.4L1482.1 1069.3L1482.8 1059.9L1484.6 1068.3L1485.7 1056.8L1486.7 1065.4L1487.4 1055.9L1488.1 1063.1L1489.6 1053.7L1490.7 1063.5L1491.9 1053.4L1493.4 1065.2L1494.3 1053.7L1496.3 1061.5L1496.9 1054.0L1498.6 1064.9L1499.8 1053.4L1500.9 1063.2L1502.6 1052.7L1503.4 1064.9L1505.0 1056.7L1506.7 1063.6L1507.4 1054.7L1508.9 1063.7L1510.1 1053.9L1512.1 1064.9L1512.7 1055.6L1514.2 1064.1L1515.9 1055.9L1517.2 1067.2L1518.7 1056.2L1519.8 1068.2L1520.4 1057.9L1522.3 1067.0L1523.6 1057.5L1524.6 1065.0L1525.7 1056.5L1526.8 1062.9L1528.7 1054.7L1529.3 1064.6L1531.1 1053.7L1532.8 1063.6L1533.3 1053.8L1535.2 1062.5L1535.9 1051.7L1537.5 1063.8L1538.4 1054.0L1540.2 1063.7L1541.5 1054.3L1542.3 1062.2L1543.1 1049.8L1544.4 1060.9L1545.3 1050.8L1546.9 1060.1L1548.5 1048.3L1549.3 1059.1L1550.3 1047.8L1551.5 1056.9L1553.2 1048.4L1554.4 1057.7L1555.0 1048.7L1557.2 1058.7L1558.1 1048.4L1559.5 1062.4L1560.8 1048.6L1562.1 1059.8L1563.8 1048.7L1564.9 1060.4L1565.8 1048.6L1567.8 1057.6L1568.6 1049.8L1569.9 1058.3L1570.9 1048.2L1572.9 1058.0L1573.7 1046.9L1575.2 1060.1L1576.2 1046.6L1578.0 1059.6L1578.6 1048.6L1579.9 1056.7L1581.1 1046.4L1582.9 1057.9L1584.4 1048.3L1585.7 1058.1L1587.1 1046.7L1588.1 1057.0L1589.6 1045.8L1590.9 1057.4L1591.3 1046.1L1592.9 1057.4L1594.6 1046.1L1595.5 1056.3L1596.6 1048.7L1597.7 1058.3L1599.5 1047.6L1601.1 1057.5L1601.5 1048.9L1603.0 1060.0L1604.7 1047.6L1605.6 1057.1L1607.2 1045.2L1608.5 1056.6L1609.0 1043.9L1610.7 1054.6L1612.3 1043.2L1613.6 1052.7L1614.5 1043.6L1615.5 1052.4L1616.6 1042.7L1617.6 1052.1L1619.0 1041.4L1621.0 1050.3L1621.6 1039.1L1623.4 1051.2L1624.2 1038.9L1625.5 1051.2L1627.5 1039.6L1628.1 1051.4L1629.5 1040.7L1631.3 1051.1L1632.8 1041.1L1633.2 1052.7L1634.9 1043.5L1636.5 1053.5L1637.9 1043.5L1638.9 1056.5L1640.0 1042.6L1641.1 1053.1L1642.6 1040.2L1643.7 1050.1L1644.6 1038.8L1645.3 1048.4L1646.6 1037.5L1647.9 1047.3L1649.3 1036.8L1650.2 1044.8L1651.0 1036.4L1652.1 1044.6L1653.8 1036.2L1654.8 1045.4L1655.9 1036.8L1657.7 1045.4L1658.9 1035.9L1660.5 1047.2L1661.3 1034.1L1662.4 1047.6L1663.5 1033.8L1664.9 1044.6L1666.9 1035.5L1667.8 1045.3L1669.3 1036.2L1669.8 1046.7L1671.6 1036.6L1672.7 1047.2L1673.6 1035.2L1675.9 1045.9L1676.4 1035.4L1677.5 1046.5L1679.1 1035.9L1680.5 1044.7L1681.6 1033.7L1683.4 1045.2L1684.1 1033.3L1685.6 1042.6L1686.5 1031.1L1687.8 1043.0L1689.7 1029.2L1690.3 1041.6L1692.1 1028.3L1693.9 1041.0L1694.3 1028.6L1695.8 1040.9L1696.9 1031.0L1698.2 1044.7L1699.9 1033.7L1701.2 1044.4L1702.5 1031.9L1704.3 1043.6L1705.2 1031.6L1706.2 1042.1L1708.0 1028.7L1708.8 1039.5L1710.7 1029.4L1712.0 1041.3L1713.4 1029.2L1714.7 1040.3L1716.0 1028.6L1716.6 1038.4L1717.8 1026.1L1719.5 1037.9L1721.3 1027.9L1722.5 1036.7L1723.4 1024.7L1724.6 1036.7L1725.8 1026.0L1727.4 1036.8L1728.7 1023.3L1729.7 1035.5L1731.1 1026.8L1732.1 1038.9L1734.0 1027.1L1734.8 1038.2L1736.2 1028.8L1737.9 1039.2L1738.6 1029.7L1739.8 1039.7L1741.4 1030.8L1742.0 1041.6L1743.5 1031.9L1744.6 1045.0L1745.6 1033.5L1746.6 1043.9L1747.8 1033.0L1749.3 1046.8L1750.7 1031.8L1752.0 1045.0L1752.8 1033.0L1754.1 1043.0L1755.0 1029.7L1756.9 1041.9L1758.0 1029.1L1759.0 1042.0L1760.6 1030.9L1761.6 1041.2L1762.7 1028.1L1764.4 1039.5L1765.4 1027.9L1766.8 1041.0L1768.3 1030.2L1769.3 1040.7L1770.5 1031.1L1772.0 1043.7L1772.9 1030.7L1774.6 1042.9L1775.6 1028.8L1776.4 1043.0L1778.2 1029.3L1778.6 1039.5L1780.2 1029.2L1781.0 1039.9L1782.6 1028.7L1783.4 1042.8L1784.6 1028.9L1786.2 1040.3L1787.1 1030.4L1788.6 1041.0L1790.1 1027.2L1790.6 1039.9L1791.8 1024.8L1793.2 1038.8L1794.9 1024.6L1795.3 1035.0L1797.3 1022.8L1798.6 1036.4L1799.0 1023.0L1800.8 1035.7L1802.1 1021.9L1802.6 1034.8L1803.6 1026.2L1805.3 1040.1L1806.0 1027.3L1807.6 1043.1L1808.8 1031.0L1809.9 1044.1L1811.3 1030.2L1812.1 1044.5L1813.1 1029.8L1814.3 1042.5L1816.1 1027.2L1816.9 1041.8L1818.1 1027.6L1819.6 1039.9L1821.0 1026.8L1822.0 1042.4L1823.8 1026.9L1824.6 1037.4L1826.1 1025.8L1827.1 1040.7L1829.0 1027.5L1829.6 1039.9L1831.1 1028.1L1832.5 1040.5L1833.2 1030.9L1835.0 1042.7L1836.0 1028.4L1836.8 1041.9L1838.5 1028.5L1839.4 1039.0L1840.1 1025.4L1841.2 1038.2L1842.3 1023.5L1843.9 1035.3L1844.5 1022.5L1845.8 1034.2L1847.0 1020.3L1848.7 1034.7L1849.5 1020.4L1850.5 1036.3L1852.2 1022.3L1853.8 1036.0L1854.5 1021.6L1856.0 1035.5L1857.1 1021.4L1858.4 1034.4L1859.8 1021.0L1860.7 1032.2L1861.6 1019.1L1863.5 1033.8L1864.1 1021.6L1865.8 1035.8L1866.8 1024.0L1867.8 1035.8L1869.4 1022.9L1870.9 1037.3L1871.8 1023.1L1873.6 1033.7L1874.5 1020.6L1875.9 1035.2L1877.3 1021.5L1878.6 1031.2L1879.8 1020.7L1880.2 1032.3L1881.5 1020.2L1882.8 1033.9L1883.9 1020.7L1885.9 1035.1L1886.6 1022.9L1887.7 1037.5L1889.5 1022.6L1890.2 1037.2L1891.9 1020.2L1893.3 1035.4L1894.9 1020.3L1895.5 1035.7L1897.2 1022.9L1898.2 1033.7L1900.1 1020.1L1901.0 1037.2L1902.2 1016.1L1903.0 1035.4L1904.6 1017.9L1905.1 1032.0L1906.4 1014.5L1908.0 1030.7L1909.0 1017.4L1910.0 1031.1L1911.3 1015.8L1912.8 1031.2L1913.8 1015.5L1915.1 1033.6L1916.2 1018.1L1917.3 1033.7L1918.8 1018.1L1920.4 1037.3L1921.3 1020.6L1922.4 1036.4L1924.2 1019.6L1925.4 1033.3L1926.8 1019.1L1927.7 1038.7L1929.3 1018.2L1930.1 1038.9L1932.0 1022.1L1932.4 1038.2L1934.2 1021.7L1935.6 1039.0" stroke="#f00" stroke-width="8.0"/>
<path d="M1935.1 1030.0L1935.9 1033.6L1937.1 1043.7L1938.5 1066.7" stroke="#f00" stroke-width="6.3"/>
<path d="M286.9 799.2L286.9 800.1L286.8 801.8L286.8 802.6L287.0 804.4L286.9 805.3L286.9 807.1L286.9 808.0L286.9 809.6L286.8 810.5L286.9 812.3L286.9 813.2L286.8 814.9L286.9 815.8L287.0 817.5L287.1 818.4L287.0 820.1L287.0 821.0L287.1 822.8L287.1 823.7L287.1 825.4L286.9 826.3L287.0 828.0L287.1 828.9L287.1 830.6L287.0 831.5L287.0 833.2L287.0 834.2L287.0 835.9L287.2 836.7L287.1 838.4L287.2 839.3L287.2 841.0L287.2 842.0L287.2 843.7L287.1 844.5L287.3 846.3L287.3 847.2L287.2 848.9L287.2 849.8L287.3 851.5L287.2 852.4L287.4 854.1L287.3 855.0L287.3 856.8L287.5 857.6L287.4 859.3L287.5 860.2L287.4 862.0L287.5 862.9L287.4 864.5L287.6 865.5L287.6 867.2L287.5 867.9L287.6 869.8L287.8 870.6L287.7 872.4L287.6 873.2L287.6 875.0L287.9 875.8L287.9 877.6L287.7 878.5L287.8 880.2L287.9 881.1L288.0 882.8L288.0 883.7L287.9 885.4L288.1 886.4L287.9 888.0L288.0 888.9L288.2 890.7L288.0 891.5L288.1 893.2L288.1 894.1L288.2 895.9L288.2 896.8L288.3 898.4L288.3 899.3L288.3 901.1L288.2 901.9L288.4 903.6L288.3 904.6L288.3 906.3L288.4 907.2L288.3 908.9L288.6 909.8L288.5 911.5L288.5 912.4L288.7 914.1L288.9 914.9L288.9 916.6L288.9 917.5L288.8 919.2L289.0 920.0L288.9 921.8L289.1 922.6L289.0 924.3L289.2 925.2L289.3 927.1L289.2 927.8L289.5 929.5L289.5 930.4L289.4 932.0L289.4 932.9L289.7 934.6L289.5 935.5L289.5 937.3L289.7 938.0L289.8 939.8L289.9 940.5L289.9 942.4L289.9 943.1L290.2 945.0L290.1 945.7L290.2 947.6L290.3 948.4L290.4 950.1L290.3 950.9L290.5 952.6L290.6 953.5L290.5 955.4L290.7 956.0L290.6 957.8L290.8 958.6L290.8 960.3L291.0 961.1L291.2 962.9L291.3 963.6L291.3 965.3L291.4 966.0L291.6 967.9L291.4 968.6L291.7 970.5L291.8 971.1L291.8 972.9L292.1 973.6L291.9 975.5L292.2 976.2L292.3 977.8L292.2 977.7L292.4 977.8L292.5 976.1L292.5 975.5L292.5 973.4L292.6 972.7L292.9 970.8L293.0 970.0L292.8 968.1L292.9 967.5L292.9 965.6L293.2 964.8L293.1 963.0L293.3 962.2L293.3 960.2L293.4 959.5L293.3 957.7L293.4 956.9L293.5 955.1L293.6 954.3L293.6 952.3L293.6 951.6L293.7 949.7L294.0 949.0L293.8 947.1L294.1 946.4L293.9 944.4L294.1 943.7L294.3 941.7L294.4 941.3L294.1 939.2L294.3 938.5L294.5 936.4L294.4 935.8L294.5 933.9L294.5 933.2L294.6 931.3L294.5 930.6L294.7 928.7L294.6 928.0L294.9 926.0L295.0 925.3L294.9 923.3L295.2 922.6L294.9 920.7L295.0 920.0L295.3 918.1L295.2 917.4L295.2 915.5L295.3 914.8L295.4 912.8L295.3 912.1L295.4 910.0L295.5 909.6L295.8 907.7L295.6 906.8L295.6 904.9L295.6 904.2L296.0 902.3L295.9 901.6L295.8 899.7L296.2 899.1L296.3 897.1L296.4 896.4L296.3 894.5L296.4 893.9L296.2 891.9L296.5 891.3L296.4 889.4L296.6 888.8L296.7 886.9L296.6 886.3L296.8 884.2L297.0 883.7L296.9 881.6L297.0 881.0L297.1 879.1L297.1 878.6L296.9 876.4L297.0 875.9L297.0 873.9L297.0 873.4L297.2 871.3L297.1 870.9L297.5 868.7L297.3 868.2L297.3 866.2L297.6 865.6L297.6 863.7L297.8 863.2L297.7 861.0L297.6 860.5L297.6 858.5L298.0 857.9L297.9 855.9L297.9 855.4L297.9 853.4L298.3 852.9L298.2 850.8L298.1 850.3L298.1 848.1L298.6 847.5L298.4 845.5L298.4 845.0L298.3 842.9L298.6 842.4L298.5 840.3L298.9 839.8L298.6 837.9L298.9 837.2L298.9 835.2L298.9 834.6L299.0 832.7L299.0 832.1L299.1 830.1L299.0 829.4L299.3 827.4L299.2 826.9L299.1 824.7L299.6 824.2L299.2 822.2L299.3 821.7L299.6 819.6L299.6 819.0L299.9 817.0L300.1 816.5L300.0 814.3L300.2 813.8L300.2 811.7L300.7 811.3L300.8 809.0L300.6 808.5L300.8 806.4L301.3 806.1L301.2 804.0L301.6 803.5L301.7 801.2L301.8 800.8L302.3 798.6L302.4 798.2L302.3 796.0L302.5 795.6L303.1 793.5L303.4 793.0L303.3 790.8L303.8 790.6L304.4 788.5L305.2 789.1L305.9 788.5L306.0 790.6L306.2 790.8L306.7 793.0L306.9 793.1L307.8 795.6L307.5 795.8L308.3 798.1L308.5 798.5L308.4 800.6L309.0 800.8L309.0 803.4L309.5 803.5L309.8 805.8L309.8 806.2L310.3 808.7L310.2 808.7L310.2 811.4L310.9 811.4L311.0 813.8L311.3 814.1L311.6 816.7L311.4 816.6L311.8 819.2L312.5 819.3L312.7 821.8L313.4 821.5L314.5 823.9L315.1 823.3L316.2 825.9L316.3 825.3L317.1 827.8L317.8 827.7L319.2 830.0L319.4 829.8L320.6 832.2L320.7 831.4L321.9 834.3L323.2 833.4L323.6 835.7L325.1 834.8L325.7 837.1L327.3 836.0L328.3 838.7L328.8 837.5L330.6 840.0L331.2 839.0L331.9 841.4L333.7 840.1L334.2 842.4L335.9 841.1L336.5 843.4L338.5 841.4L339.0 844.0L340.1 842.9L341.8 844.8L342.6 843.8L344.3 845.7L345.3 844.8L346.3 846.8L348.2 845.3L348.9 847.4L350.3 846.0L351.3 848.4L352.9 847.0L353.9 849.0L354.6 847.5L356.6 849.3L357.5 847.8L358.8 849.4L359.9 847.5L362.0 848.9L362.9 846.8L364.7 848.5L366.1 846.7L367.3 847.9L368.2 846.3L369.8 847.7L370.5 845.5L372.3 846.9L372.6 844.0L374.5 845.5L375.8 843.2L376.4 844.5L377.5 841.9L379.2 843.1L380.4 840.9L381.5 842.2L381.9 839.3L384.1 841.0L385.2 838.8L385.9 840.0L387.3 838.1L388.7 839.3L390.4 837.3L391.8 838.6L392.4 836.5L394.2 837.9L394.9 836.1L396.3 837.7L397.5 835.7L399.5 837.7L400.8 836.0L402.0 837.8L403.2 835.4L404.8 837.1L405.6 835.5L407.1 837.8L408.5 836.5L409.7 839.3L411.0 837.7L411.8 840.5L413.6 839.1L414.5 841.4L415.8 840.4L416.2 842.9L417.5 842.0L418.7 845.3L419.5 843.9L420.2 846.9L421.3 845.9L422.0 848.8L422.8 847.8L423.9 851.0L425.1 849.4L426.3 852.6L427.1 851.5L427.6 854.8L427.8 853.7L429.2 857.2L429.9 855.5L430.6 858.8L430.9 858.0L431.7 860.9L432.6 859.5L433.5 863.0L433.9 862.1L435.2 865.0L435.4 863.2L436.8 867.0L437.7 865.8L438.3 868.8L439.0 867.4L439.9 870.8L440.9 869.1L441.9 872.4L442.8 871.0L443.4 874.2L444.0 872.7L445.6 875.8L446.5 874.1L447.4 877.8L447.7 876.3L448.3 879.9L449.6 878.5L450.3 881.6L450.4 880.4L451.4 883.8L452.5 882.3L453.2 886.4L453.4 884.4L455.2 888.0L455.4 886.7L456.5 889.8L456.9 888.3L457.9 892.3L458.4 890.6L459.7 893.3L461.2 892.0L462.2 895.2L463.0 893.5L464.0 896.6L464.9 894.9L466.2 897.7L467.1 896.1L468.1 899.4L469.1 898.0L470.1 901.0L471.2 898.9L471.9 902.9L473.0 901.0L474.0 904.2L474.6 902.7L476.0 905.5L476.8 904.0L478.0 907.1L478.5 906.1L479.8 909.0L480.5 907.2L481.8 910.6L482.5 908.9L483.1 912.4L484.5 910.7L485.3 913.7L486.6 911.9L487.7 915.7L489.1 913.4L489.5 916.9L490.4 914.8L491.8 918.1L493.1 916.6L493.4 919.6L495.2 918.4L495.7 921.5L497.2 919.7L497.9 922.7L498.7 921.0L499.9 924.9L500.6 923.1L501.3 926.7L502.3 925.0L503.2 928.5L503.3 926.6L504.5 930.6L505.7 928.6L506.2 932.7L506.9 930.6L507.6 934.6L508.7 932.6L509.9 936.3L510.8 934.2L511.1 938.3L512.7 936.1L513.4 939.8L513.8 937.7L515.1 941.1L516.4 939.0L517.5 942.6L517.9 941.2L518.6 944.0L519.7 942.5L521.4 946.0L521.8 944.5L522.9 947.4L524.0 945.7L525.0 949.3L525.9 947.4L526.6 950.9L527.1 949.4L528.0 953.3L528.6 951.2L530.2 954.9L530.7 953.4L531.7 957.3L532.1 955.0L533.5 958.6L534.7 956.7L535.5 960.0L535.6 958.4L536.9 962.3L537.7 960.5L538.6 964.3L539.1 962.5L539.3 966.3L540.1 965.2L541.0 968.3L541.9 967.2L542.6 970.4L543.3 969.1L544.7 972.2L545.0 970.7L545.9 974.2L547.0 973.2L547.2 976.7L548.1 975.6L548.5 978.9L549.4 977.2L549.8 981.2L550.9 979.8L551.7 983.4L551.9 981.7L553.1 985.8L552.9 984.2L554.3 988.0L554.8 986.4L555.7 990.0L555.7 988.4L556.4 992.0L557.7 990.4L557.7 994.5L559.1 993.1L559.7 996.4L560.5 994.8L560.5 998.4L561.9 997.1L562.0 1000.6L562.5 999.0L563.9 1003.3L564.3 1001.4L565.1 1004.9L565.4 1003.8L566.5 1007.8L566.3 1006.4L567.2 1009.4L567.3 1008.1L567.6 1011.9L568.3 1010.4L569.6 1014.4L569.6 1012.9L570.5 1017.0L570.4 1015.6L571.2 1019.1L571.5 1017.9L571.9 1021.4L572.8 1019.9L573.0 1023.3L574.4 1022.0L574.7 1025.4L575.0 1024.2L576.5 1027.6L576.8 1026.5L577.6 1030.2L578.2 1028.4L578.9 1031.9L579.3 1030.0L580.8 1034.0L581.5 1032.7L582.1 1035.8L582.5 1034.4L583.6 1038.6L584.1 1036.9L584.5 1040.1L585.1 1038.9L586.4 1042.5L587.3 1041.3L587.9 1044.5L588.2 1043.1L588.8 1046.8L589.8 1045.1L590.2 1049.2L591.6 1047.3L592.0 1051.3L592.9 1049.7L593.2 1053.6L593.9 1052.2L594.8 1055.6L595.1 1053.7L595.7 1058.0L596.4 1056.1L598.0 1059.6L598.3 1058.6L599.0 1061.7L600.2 1060.2L600.0 1064.1L600.7 1062.3L601.8 1066.4L602.9 1064.7L603.7 1068.1L604.2 1066.7L604.2 1070.8L605.0 1069.6L605.9 1072.8L606.9 1071.7L606.9 1075.5L608.1 1074.1L608.1 1077.7L609.6 1076.1L609.8 1080.2L610.7 1078.3L611.1 1082.6L612.1 1081.0L612.8 1084.4L613.1 1083.2L614.2 1086.7L615.0 1084.6L616.1 1088.2L616.6 1086.6L617.9 1089.9L618.5 1087.9L620.0 1091.4L620.9 1089.6L621.8 1092.7L622.6 1090.9L623.2 1094.3L624.8 1092.4L625.9 1095.6L626.3 1094.0L628.0 1097.2L628.4 1095.4L629.4 1098.7L630.8 1096.6L631.6 1099.8L633.1 1098.4L634.7 1101.2L635.6 1099.3L636.5 1102.4L637.6 1100.8L638.1 1104.5L639.6 1102.4L640.9 1105.2L641.9 1104.0L643.0 1107.2L643.7 1105.2L645.2 1108.4L645.8 1106.7L647.2 1110.2L647.8 1107.9L649.3 1111.6L650.3 1109.6L651.3 1113.2L652.3 1110.7L653.1 1114.7L653.7 1112.6L655.1 1115.9L655.5 1114.7L656.9 1118.1L657.8 1115.8L658.7 1119.3L659.7 1117.9L660.2 1120.6L661.3 1118.6L662.7 1122.1L663.9 1119.9L664.9 1123.0L666.2 1120.3L667.0 1124.3L668.2 1122.0L669.3 1125.8L670.9 1123.6L671.9 1126.8L673.5 1123.8L674.9 1127.5L675.6 1125.1L677.0 1128.0L678.5 1125.6L680.0 1129.0L680.6 1126.7L682.1 1130.3L682.9 1128.5L684.3 1131.5L685.7 1129.6L686.3 1132.3L688.0 1130.4L688.6 1134.2L690.6 1131.8L690.9 1135.2L692.8 1133.2L693.4 1136.0L694.9 1134.4L695.8 1137.4L696.6 1134.9L698.3 1138.5L699.3 1137.2L700.8 1140.2L701.7 1137.6L702.7 1140.8L704.1 1138.5L705.3 1141.7L706.1 1139.7L707.5 1142.8L708.9 1140.4L710.2 1143.4L711.1 1141.7L712.6 1144.5L713.9 1142.6L714.7 1145.5L715.5 1143.9L717.3 1146.9L718.4 1144.7L719.5 1147.5L720.9 1145.1L721.6 1148.5L723.2 1146.0L723.9 1149.3L726.0 1147.3L727.2 1150.0L727.5 1147.9L729.0 1150.9L729.9 1148.6L732.0 1151.8L732.3 1149.4L733.8 1152.4L735.3 1150.0L736.3 1153.7L738.0 1151.1L738.4 1154.1L739.9 1151.8L741.7 1154.7L742.8 1152.4L744.1 1155.6L744.9 1152.9L746.8 1156.4L748.1 1154.1L749.3 1157.1L750.2 1154.4L751.7 1157.2L753.0 1155.1L754.5 1158.6L755.7 1155.5L756.6 1158.7L758.1 1156.1L759.4 1159.1L760.1 1156.7L762.0 1159.5L763.4 1156.7L764.1 1159.7L765.9 1156.7L766.4 1159.7L768.3 1157.3L769.1 1160.1L771.0 1157.5L771.7 1159.8L773.3 1157.4L774.1 1160.8L775.6 1157.7L777.1 1161.3L778.8 1158.9L779.6 1162.1L781.4 1159.6L782.0 1162.5L783.3 1160.0L784.4 1163.7L785.8 1160.9L787.4 1164.5L788.8 1161.6L789.8 1164.7L791.5 1162.9L792.1 1165.5L793.3 1162.6L795.6 1164.9L796.8 1162.2L797.9 1164.7L799.6 1161.8L800.2 1164.6L801.5 1161.7L803.6 1164.7L804.1 1162.0L805.4 1164.3L807.2 1161.0L808.2 1163.8L809.6 1161.1L810.1 1163.4L811.5 1160.4L813.3 1162.7L814.5 1160.4L815.6 1163.6L816.0 1160.4L817.5 1163.3L819.0 1161.2L819.3 1164.2L820.3 1160.3L821.7 1162.2L822.5 1159.0L823.0 1160.7L824.2 1157.2L825.1 1158.6L825.4 1155.3L826.9 1157.7L828.4 1154.1L829.7 1157.1L830.4 1154.0L832.0 1156.3L833.2 1153.5L834.6 1155.3L836.0 1152.4L837.1 1154.5L838.3 1151.9L839.9 1154.5L841.7 1151.8L842.1 1154.1L843.6 1151.8L845.1 1153.7L846.4 1151.7L848.0 1154.9L849.5 1153.1L850.0 1156.4L850.8 1154.3L852.6 1157.5L853.9 1154.8L854.8 1157.1L855.8 1153.8L856.9 1156.2L858.5 1153.2L858.8 1156.4L860.1 1154.5L861.9 1157.5L862.7 1155.1L863.6 1158.5L865.4 1155.6L866.4 1157.7L868.2 1154.6L869.4 1156.6L870.7 1153.8L871.7 1155.5L872.5 1152.1L873.9 1154.3L874.7 1151.2L876.5 1153.7L877.1 1150.0L878.7 1152.0L879.9 1148.7L880.7 1151.3L882.6 1147.8L883.4 1150.4L884.6 1147.6L886.4 1149.9L887.2 1146.8L888.0 1149.1L889.4 1146.0L890.8 1148.4L892.1 1145.2L893.2 1147.8L894.4 1144.8L895.0 1147.3L896.3 1144.6L898.1 1146.9L899.1 1144.0L900.1 1145.9L901.1 1143.4L902.2 1146.2L904.4 1142.4L905.0 1144.2L905.9 1141.2L907.9 1143.6L908.9 1140.3L909.9 1143.0L911.7 1139.8L913.0 1142.5L914.4 1139.3L915.5 1142.7L916.5 1139.9L917.6 1142.1L918.9 1139.8L920.2 1141.8L922.1 1138.8L922.8 1141.3L924.7 1138.2L925.2 1140.5L927.0 1137.9L927.5 1140.1L929.2 1137.1L930.0 1140.0L931.6 1137.3L932.9 1140.5L933.4 1138.4L934.5 1140.8L936.0 1138.2L936.8 1140.0L937.9 1136.0L939.0 1139.0L939.2 1134.7L940.5 1136.4L941.7 1133.1L942.3 1135.4L943.5 1132.0L945.5 1134.4L947.2 1132.0L948.4 1134.3L949.5 1130.9L949.9 1133.1L950.9 1129.9L952.0 1132.2L953.8 1128.9L954.3 1130.9L955.3 1127.9L956.3 1129.8L957.6 1126.7L959.2 1128.7L960.5 1125.7L961.7 1127.9L962.3 1125.3L963.8 1127.3L964.9 1124.5L966.6 1127.5L967.3 1124.4L968.7 1126.4L970.1 1124.0L970.8 1126.4L972.1 1123.3L974.0 1126.1L975.4 1123.3L976.6 1126.3L977.1 1123.7L979.1 1127.0L980.1 1123.7L981.8 1126.4L982.4 1124.4L983.8 1126.6L985.6 1124.2L986.2 1127.4L987.7 1124.4L988.7 1128.0L990.3 1125.8L991.5 1128.3L992.7 1125.7L993.6 1128.4L994.5 1125.3L995.9 1127.8L997.1 1124.2L998.1 1126.9L999.8 1123.6L1000.5 1125.8L1002.0 1122.8L1003.3 1125.4L1004.6 1122.5L1006.2 1125.6L1006.7 1122.8L1008.6 1125.8L1009.8 1123.2L1011.2 1125.9L1012.6 1123.5L1013.8 1126.4L1015.6 1123.7L1016.0 1126.6L1018.0 1123.6L1019.4 1126.7L1020.1 1123.7L1022.1 1126.5L1023.1 1124.7L1024.3 1127.2L1025.7 1124.4L1026.5 1127.7L1027.8 1124.7L1029.2 1127.7L1030.6 1124.9L1031.7 1127.3L1033.0 1125.0L1034.0 1127.1L1035.2 1123.8L1036.9 1126.4L1038.1 1123.2L1039.2 1126.0L1040.7 1122.1L1041.8 1124.9L1043.2 1121.7L1043.8 1124.0L1045.1 1121.5L1046.3 1124.0L1048.0 1120.7L1049.7 1123.3L1051.1 1120.8L1052.6 1123.3L1053.4 1121.0L1054.9 1124.0L1055.4 1122.0L1056.6 1125.1L1057.7 1123.3L1059.5 1126.4L1060.2 1123.8L1061.5 1128.6L1062.3 1125.2L1063.3 1127.9L1064.7 1124.9L1066.1 1127.1L1067.0 1124.0L1068.1 1127.0L1070.1 1123.5L1071.1 1125.9L1072.1 1122.9L1073.2 1125.7L1074.9 1122.3L1075.9 1125.3L1077.3 1121.7L1079.0 1124.5L1080.3 1121.7L1081.3 1123.9L1082.9 1120.2L1084.0 1122.9L1085.5 1120.1L1086.8 1122.2L1087.2 1119.2L1089.1 1121.3L1090.0 1117.7L1091.3 1120.4L1093.2 1117.3L1093.8 1119.9L1095.1 1117.0L1096.9 1119.4L1098.4 1116.3L1099.2 1118.8L1100.5 1115.7L1102.2 1118.4L1103.5 1116.0L1104.6 1117.9L1105.8 1115.2L1106.9 1118.0L1108.8 1114.9L1110.2 1116.8L1111.3 1113.9L1112.3 1116.4L1113.7 1113.3L1114.9 1116.1L1116.0 1112.4L1117.9 1115.1L1118.6 1112.4L1119.9 1114.8L1122.0 1111.2L1122.8 1114.0L1124.4 1111.2L1125.2 1113.9L1126.3 1110.4L1128.3 1113.2L1129.2 1110.4L1130.2 1113.3L1131.3 1110.1L1132.9 1112.5L1134.4 1109.4L1135.7 1112.6L1136.7 1109.2L1138.6 1112.0L1138.9 1108.9L1140.3 1112.1L1141.5 1109.2L1143.2 1111.4L1144.5 1108.4L1145.8 1111.7L1147.5 1108.7L1148.6 1111.0L1149.9 1108.3L1151.2 1111.0L1152.2 1107.6L1153.7 1111.1L1155.1 1108.6L1156.2 1111.6L1157.3 1109.1L1159.1 1112.1L1160.2 1109.1L1161.5 1112.7L1163.0 1110.2L1164.6 1112.8L1165.3 1110.1L1167.0 1113.3L1168.5 1110.9L1169.2 1114.1L1170.4 1110.5L1171.8 1113.2L1173.6 1110.2L1174.8 1113.2L1175.7 1110.5L1177.0 1113.1L1178.8 1109.8L1179.7 1113.2L1181.1 1109.8L1182.5 1113.1L1183.6 1110.0L1185.3 1113.3L1186.3 1109.4L1188.2 1112.0L1189.2 1109.0L1189.9 1111.9L1191.6 1108.3L1192.4 1111.3L1194.2 1108.0L1195.1 1110.9L1196.5 1107.4L1197.6 1110.0L1199.2 1106.4L1200.5 1109.9L1201.3 1106.5L1202.6 1108.8L1204.1 1106.3L1204.8 1109.9L1206.9 1106.1L1208.1 1109.5L1208.6 1107.1L1210.1 1110.6L1211.2 1107.1L1212.7 1110.1L1214.0 1106.9L1215.4 1110.7L1216.7 1107.3L1218.2 1110.8L1218.9 1108.5L1220.2 1111.2L1221.5 1108.9L1222.7 1112.0L1224.2 1108.5L1225.4 1112.5L1226.7 1109.6L1228.6 1113.3L1229.5 1110.0L1230.9 1113.6L1232.3 1110.2L1232.9 1113.5L1234.4 1110.5L1236.2 1113.5L1237.4 1109.9L1238.8 1112.8L1239.9 1108.9L1241.1 1112.3L1242.6 1108.6L1243.3 1112.3L1244.7 1108.5L1245.9 1111.4L1247.2 1107.6L1248.3 1111.0L1250.3 1107.2L1251.3 1110.3L1252.6 1107.0L1253.5 1110.1L1254.8 1106.2L1256.5 1109.1L1257.4 1106.3L1259.1 1109.1L1260.4 1106.0L1260.9 1108.9L1262.3 1105.5L1263.6 1108.6L1265.2 1104.6L1266.0 1108.1L1267.7 1104.0L1269.1 1108.0L1270.0 1103.9L1271.6 1107.0L1272.9 1103.8L1273.9 1106.7L1275.3 1102.4L1276.3 1105.8L1277.5 1102.3L1279.0 1105.1L1280.1 1101.2L1282.0 1104.5L1282.9 1101.2L1284.3 1104.7L1285.4 1100.1L1286.9 1104.0L1288.7 1100.1L1289.0 1102.8L1291.2 1098.7L1292.2 1102.6L1293.2 1098.3L1294.2 1102.5L1296.1 1098.8L1297.5 1101.8L1298.7 1097.8L1299.2 1101.7L1300.8 1097.8L1302.1 1101.9L1303.7 1097.6L1304.5 1101.0L1305.7 1096.7L1306.9 1100.6L1309.0 1097.6L1310.1 1101.0L1311.4 1097.4L1312.0 1100.9L1314.1 1098.1L1315.0 1101.9L1316.0 1097.5L1318.0 1101.5L1318.7 1098.3L1319.8 1101.4L1321.6 1098.3L1322.3 1102.1L1323.8 1098.5L1325.6 1102.9L1326.1 1098.3L1328.1 1102.9L1329.6 1099.0L1330.4 1102.9L1331.7 1099.8L1333.5 1103.1L1334.9 1099.2L1335.4 1103.7L1337.5 1099.7L1338.0 1104.2L1339.3 1100.4L1341.0 1104.9L1342.2 1099.8L1343.8 1104.6L1345.3 1101.2L1345.9 1105.0L1347.3 1100.9L1349.2 1105.0L1349.9 1101.5L1351.7 1104.9L1352.5 1101.4L1353.9 1105.8L1355.5 1101.3L1356.9 1104.9L1357.4 1101.4L1358.9 1105.5L1360.6 1101.4L1362.0 1105.7L1362.8 1101.2L1364.4 1105.4L1365.1 1100.7L1367.2 1104.3L1368.3 1100.7L1368.8 1104.6L1370.8 1100.1L1372.0 1103.9L1373.3 1100.1L1374.5 1103.8L1375.4 1099.4L1376.8 1104.2L1377.9 1098.6L1379.2 1102.4L1380.8 1098.6L1382.1 1102.4L1383.6 1098.1L1384.5 1102.2L1386.2 1098.6L1387.0 1101.9L1388.3 1098.2L1390.1 1101.9L1390.6 1098.4L1391.8 1102.5L1393.4 1098.4L1394.6 1101.7L1396.3 1097.4L1397.0 1101.2L1398.3 1097.5L1400.4 1101.5L1400.8 1098.2L1402.9 1101.1L1404.2 1098.0L1405.0 1101.6L1406.0 1097.9L1407.3 1101.5L1409.2 1097.5L1410.1 1100.5L1411.1 1097.2L1412.9 1100.6L1413.7 1095.8L1415.3 1100.3L1417.1 1096.9L1417.7 1101.0L1419.6 1097.3L1420.2 1100.6L1422.0 1096.5L1422.7 1100.7L1424.6 1096.3L1426.0 1100.1L1426.9 1096.7L1428.6 1099.9L1429.7 1096.2L1430.5 1100.2L1432.5 1096.3L1433.6 1100.3L1434.6 1096.8L1436.6 1100.5L1437.4 1095.9L1439.2 1100.0L1439.6 1095.9L1441.0 1100.2L1443.0 1096.2L1443.5 1099.6L1445.2 1095.8L1446.2 1099.2L1447.8 1095.8L1448.5 1099.0L1449.6 1095.3L1451.2 1097.8L1452.4 1094.0L1453.5 1097.9L1455.2 1093.6L1456.3 1096.6L1457.3 1093.7L1458.3 1097.0L1459.5 1092.6L1460.8 1096.5L1462.4 1091.9L1463.3 1095.5L1465.2 1092.1L1466.2 1095.5L1467.3 1091.9L1468.5 1095.2L1470.1 1091.7L1471.7 1095.9L1472.7 1092.4L1473.6 1096.3L1474.9 1093.6L1476.0 1097.3L1477.9 1094.6L1478.5 1098.6L1479.7 1095.1L1480.8 1097.9L1482.5 1093.9L1483.6 1096.7L1484.7 1093.0L1485.8 1095.2L1487.1 1091.8L1488.5 1094.3L1489.3 1090.8L1491.0 1093.6L1491.6 1090.1L1493.1 1093.3L1494.0 1089.3L1495.5 1092.9L1496.6 1089.1L1497.9 1092.0L1498.9 1089.3L1500.6 1092.4L1502.0 1088.9L1502.9 1092.7L1504.1 1089.8L1505.1 1093.4L1507.0 1089.9L1507.8 1093.8L1509.7 1089.8L1510.3 1094.4L1511.6 1090.8L1512.8 1094.7L1514.4 1091.4L1515.5 1094.8L1516.6 1092.2L1518.4 1096.0L1519.4 1092.9L1520.3 1096.6L1522.2 1094.0L1522.6 1096.6L1524.7 1094.3L1525.5 1097.4L1526.9 1095.1L1528.1 1098.1L1529.7 1095.1L1530.2 1098.4L1531.7 1095.1L1533.7 1098.1L1534.2 1095.0L1536.1 1097.4L1537.1 1094.7L1538.5 1097.3L1540.3 1094.8L1540.9 1097.4L1542.7 1094.9L1543.6 1098.0L1545.3 1095.0L1546.9 1097.6L1547.9 1094.9L1549.4 1097.6L1550.9 1095.0L1552.1 1098.0L1553.5 1095.2L1554.9 1098.1L1555.5 1095.1L1557.3 1097.4L1558.2 1095.3L1559.3 1097.4L1560.7 1094.1L1562.3 1096.8L1562.9 1093.9L1564.3 1096.7L1565.7 1094.5L1566.5 1096.8L1568.2 1094.6L1569.4 1097.6L1570.1 1095.7L1571.7 1098.3L1573.2 1096.2L1574.5 1099.5L1575.0 1097.0L1576.1 1099.4L1577.6 1097.5L1579.1 1099.8L1580.1 1097.2L1581.1 1099.2L1582.5 1096.7L1583.4 1098.9L1584.5 1096.1L1586.1 1098.2L1587.8 1095.9L1588.4 1098.6L1589.9 1096.1L1591.0 1099.4L1592.7 1096.6L1593.7 1099.1L1595.4 1096.6L1596.1 1098.5L1597.6 1095.9L1599.2 1097.6L1600.5 1094.9L1601.6 1097.0L1602.3 1094.7L1604.1 1096.4L1605.2 1093.5L1606.7 1095.6L1608.0 1092.8L1609.4 1094.6L1610.7 1091.8L1611.1 1094.0L1612.9 1091.8L1613.6 1094.3L1615.9 1091.7L1616.8 1094.1L1618.3 1091.6L1619.3 1094.5L1620.5 1091.7L1622.0 1094.0L1623.1 1091.2L1624.6 1093.8L1625.9 1091.4L1627.1 1093.2L1628.4 1091.2L1629.1 1093.4L1630.4 1091.5L1632.0 1093.4L1633.3 1091.8L1634.9 1093.8L1636.4 1092.1L1637.7 1094.8L1638.6 1092.5L1639.9 1095.2L1641.7 1092.6L1642.4 1095.1L1644.5 1092.5L1645.8 1094.5L1646.2 1092.5L1647.4 1094.2L1649.4 1091.8L1650.1 1094.0L1651.4 1091.0L1652.8 1093.0L1654.0 1091.1L1655.3 1093.2L1656.6 1090.6L1658.5 1092.0L1659.4 1089.7L1660.1 1091.6L1662.3 1089.2L1663.0 1091.0L1664.0 1088.4L1665.5 1090.3L1666.4 1087.4L1668.3 1089.4L1669.1 1086.9L1670.5 1089.3L1672.0 1086.8L1673.2 1089.0L1674.1 1086.8L1675.2 1089.9L1676.2 1088.1L1677.6 1090.6L1678.8 1088.6L1680.4 1091.4L1681.5 1089.9L1683.0 1092.4L1684.1 1090.6L1685.0 1093.1L1686.2 1090.3L1687.3 1092.3L1688.2 1089.2L1688.9 1090.8L1690.4 1087.6L1691.6 1089.9L1692.5 1086.6L1693.7 1088.0L1694.9 1085.3L1695.4 1087.4L1697.3 1084.7L1698.5 1085.9L1698.9 1083.2L1700.0 1085.8L1701.3 1082.2L1702.7 1084.5L1704.5 1082.0L1705.1 1083.7L1706.7 1081.7L1708.2 1084.2L1709.1 1082.2L1710.1 1084.7L1711.0 1082.6L1712.6 1085.1L1713.8 1082.9L1714.8 1085.2L1716.2 1082.1L1717.4 1083.7L1718.4 1081.1L1719.5 1082.8L1720.7 1079.8L1722.0 1081.3L1723.6 1079.0L1724.9 1080.9L1726.3 1078.3L1727.4 1080.3L1729.2 1077.8L1730.1 1079.8L1731.8 1077.8L1732.7 1080.7L1733.9 1078.2L1735.2 1080.7L1737.2 1078.7L1738.1 1081.4L1738.9 1079.0L1740.1 1081.9L1742.1 1079.3L1743.3 1081.8L1744.0 1079.7L1745.8 1082.3L1746.7 1080.6L1748.0 1082.5L1749.9 1080.9L1751.2 1083.2L1752.7 1081.3L1753.2 1083.9L1754.5 1081.6L1756.3 1084.6L1757.9 1082.0L1758.9 1084.4L1760.3 1081.5L1761.5 1084.2L1762.6 1081.6L1763.9 1083.5L1765.3 1080.6L1765.8 1082.7L1766.9 1079.7L1769.0 1081.5L1769.7 1078.6L1771.3 1079.8L1772.4 1077.0L1772.7 1078.9L1774.4 1076.3L1775.2 1078.1L1776.9 1076.0L1778.4 1077.8L1778.9 1075.3L1780.9 1077.2L1781.7 1074.7L1782.7 1077.0L1784.0 1074.4L1785.2 1076.3L1786.2 1073.7L1787.6 1075.9L1788.8 1073.7L1790.3 1075.7L1792.0 1073.0L1792.8 1075.1L1794.3 1072.1L1796.2 1074.7L1797.6 1072.6L1798.4 1074.4L1800.0 1072.3L1801.0 1074.0L1803.3 1071.7L1803.9 1074.3L1805.4 1071.8" stroke="#00f" stroke-width="7.5"/>
<path d="M1805.7 1073.0L1808.0 1068.2L1811.0 1052.0L1814.3 1031.6" stroke="#00f" stroke-width="6.3"/>
<path d="M284.5 1110.0L286.5 1065.0L286.0 1090.0L288.5 1045.0L288.0 1068.0L290.5 1025.0L291.5 1017.0L294.0 985.0L295.0 975.0L297.0 950.0L298.0 940.0L300.0 912.0L301.0 915.0L302.0 891.0L302.0 894.7L302.6 937.4L303.4 910.9L304.1 957.9L304.9 928.2L305.5 975.0L306.1 944.6L306.7 1004.4L307.5 964.1L308.2 1011.4L308.8 974.6L309.0 1022.8L309.6 1011.1L310.4 969.4L311.2 1003.0L311.8 959.8L312.3 955.2L312.5 992.6L313.1 965.6L313.9 1002.4L314.6 980.9L315.2 1012.5L315.8 992.1L316.6 1025.5L317.2 1001.2L317.9 1041.9L318.7 1004.0L319.0 1049.8L319.4 1045.9L320.1 1002.9L320.7 1030.2L321.4 995.2L322.2 1017.1L323.0 989.3L323.6 1007.8L324.0 985.2L324.3 990.2L325.0 1013.4L325.6 987.9L326.5 1024.0L326.8 1027.8L327.2 982.8L328.0 1021.3L328.8 967.8L329.6 998.6L330.4 958.5L331.1 987.0L331.9 941.4L332.5 978.7L333.3 935.0L334.0 963.2L334.8 931.1L335.5 954.0L336.2 928.3L337.0 958.8L337.8 916.9L338.4 951.1L339.1 922.1L339.7 948.8L340.3 917.1L340.8 947.2L341.4 913.2L342.1 942.5L342.8 909.6L343.5 944.2L344.1 907.0L344.9 943.7L345.7 905.2L346.3 941.7L347.0 896.8L347.8 931.0L348.4 891.8L349.1 926.4L349.7 887.7L350.5 921.7L351.3 882.0L352.1 919.7L352.8 876.7L353.4 909.9L354.1 873.7L354.8 904.9L355.5 869.9L356.3 897.6L357.1 862.3L357.9 890.4L358.7 857.6L359.5 885.7L360.1 850.0L360.7 875.8L361.5 845.2L362.2 868.3L362.8 840.7L364.2 845.0L365.4 835.0L366.2 805.0L367.4 775.0L368.6 750.0L369.6 731.5L370.0 715.0L370.2 689.4L370.8 724.0L371.6 665.2L371.6 673.0L372.2 716.8L372.8 676.2L373.3 666.2L373.5 728.8L374.3 688.0L375.0 754.0L375.9 709.6L376.4 785.9L377.2 736.0L378.1 798.4L378.8 760.7L379.6 817.8L379.8 818.0L380.2 765.2L380.8 808.4L381.5 760.7L382.1 809.5L382.8 757.3L383.4 798.7L384.2 749.0L384.9 742.5L385.0 794.6L385.5 748.9L386.2 801.4L386.8 747.7L387.6 803.5L388.2 750.6L389.0 813.8L389.6 748.8L390.2 810.7L390.9 759.3L391.5 820.0L392.2 765.7L392.8 826.0L393.5 776.4L394.1 826.0L394.9 773.7L395.6 826.8L396.4 782.0L397.1 832.0L397.8 781.3L398.4 856.7L399.2 790.3L399.6 855.0L399.8 852.2L400.4 799.0L401.1 835.7L401.8 780.9L402.6 815.6L403.3 761.6L404.0 816.8L404.7 754.3L405.3 811.9L405.9 756.2L406.7 812.7L407.5 756.4L407.9 745.1L408.2 815.0L409.0 755.4L409.8 824.9L410.4 763.4L411.1 826.9L411.9 774.1L412.6 832.1L413.2 777.1L413.8 829.7L414.5 780.1L415.1 839.7L415.6 841.0L415.9 785.6L416.5 836.1L417.2 793.8L418.0 833.6L418.7 790.6L419.6 834.7L420.2 788.9L420.9 832.7L421.5 784.0L422.3 827.6L422.8 784.7L423.6 826.1L424.4 780.8L425.1 824.3L425.8 771.7L426.6 819.5L427.3 773.7L428.1 814.8L429.0 764.8L429.6 813.3L430.4 764.1L431.0 819.8L431.7 761.6L432.2 823.1L432.3 821.0L433.0 760.4L433.6 809.2L434.3 761.7L434.9 808.5L435.6 752.1L436.2 801.3L436.7 748.9L437.4 802.9L438.0 754.4L438.8 803.4L439.6 747.8L440.2 799.6L441.0 744.0L441.6 800.6L442.4 742.4L443.1 801.2L443.9 740.3L444.8 801.5L445.4 739.6L446.2 812.0L446.2 814.2L447.0 747.6L447.8 802.2L448.5 744.0L449.1 797.3L449.8 736.4L450.4 801.2L451.2 738.0L451.8 801.6L452.6 738.9L453.3 798.4L453.9 729.7L454.1 735.5L454.8 795.7L455.3 735.5L456.1 803.0L456.8 749.1L457.4 801.0L458.2 751.4L458.9 804.4L459.0 810.3L459.4 753.0L460.2 809.4L460.8 744.6L461.5 806.4L462.2 752.4L462.9 809.4L463.5 755.6L464.2 804.0L465.0 749.7L465.6 801.0L466.3 747.8L466.7 746.3L467.0 806.3L467.8 751.7L468.5 798.4L469.3 755.6L469.9 804.7L470.5 753.7L471.1 801.3L472.0 750.2L472.8 801.6L473.5 747.6L474.3 804.5L474.9 752.5L475.7 804.1L475.9 745.0L476.4 754.6L477.0 803.8L477.6 755.2L478.3 803.1L478.8 812.5L479.1 756.0L479.7 811.4L480.5 754.4L481.2 803.2L481.9 754.1L482.6 809.3L483.3 758.8L484.0 802.5L484.8 756.3L485.5 803.0L486.0 755.6L486.6 807.3L487.3 757.9L487.9 803.5L488.6 750.5L489.2 813.7L490.0 753.1L490.8 804.5L491.6 744.5L492.2 803.7L492.9 747.8L493.5 802.3L494.1 745.8L494.6 796.2L495.4 743.3L496.2 795.6L496.9 749.9L497.7 799.4L498.5 742.0L499.2 795.1L499.9 740.2L500.5 798.6L501.2 740.2L502.0 796.2L502.8 740.2L503.5 791.8L504.3 736.2L505.1 785.0L505.6 733.5L505.8 726.4L506.4 782.9L507.1 735.7L507.7 780.1L508.3 738.0L509.1 788.3L509.8 738.7L510.4 790.9L511.1 742.6L511.8 794.3L512.6 747.6L513.1 792.5L513.9 746.9L514.5 797.7L515.3 752.7L515.9 798.4L516.5 760.0L517.1 807.4L517.9 758.0L518.6 809.4L519.0 811.6L519.3 750.0L519.9 809.4L520.7 744.8L521.4 797.0L522.1 740.0L522.7 802.1L523.5 735.3L523.8 724.9L524.2 795.6L525.0 736.9L525.7 796.4L526.4 742.4L527.0 789.9L527.5 744.4L528.2 791.7L528.9 748.6L529.7 797.5L530.5 745.3L531.2 797.3L532.0 753.1L532.6 799.1L533.3 753.2L534.0 801.6L534.7 742.8L535.4 796.6L536.2 748.5L537.0 804.1L537.7 755.8L538.2 804.9L538.4 801.8L539.0 750.5L539.7 796.0L540.3 748.1L541.0 800.3L541.8 745.0L542.5 795.9L543.3 746.8L544.2 797.8L544.8 747.0L545.6 796.5L545.9 738.3L546.2 742.5L546.9 796.3L547.7 742.4L548.3 794.1L548.9 739.4L549.6 789.6L550.3 742.2L550.9 795.6L551.6 744.0L552.4 792.3L553.2 738.1L553.9 795.9L554.7 730.5L555.4 796.4L556.0 720.4L556.4 712.4L556.7 790.5L557.4 725.5L558.1 787.0L558.6 723.0L559.4 789.1L560.2 725.6L560.8 790.5L561.6 730.5L562.3 790.1L563.0 734.4L563.7 793.4L564.4 736.1L565.2 788.3L565.9 737.2L566.7 778.3L567.4 735.1L568.2 777.1L568.9 729.7L569.7 783.3L570.3 728.3L571.0 771.3L571.6 726.4L572.4 770.7L572.7 714.3L573.0 720.4L573.6 771.2L574.4 722.8L575.1 777.9L575.8 729.6L576.6 780.1L577.3 735.9L578.0 790.5L578.4 791.4L578.9 734.7L579.6 786.3L580.2 732.5L581.0 780.0L581.7 731.7L582.4 780.6L583.2 724.4L584.0 777.2L584.7 723.7L585.3 771.5L585.9 725.3L586.7 770.7L587.5 719.9L588.2 769.9L588.9 717.4L589.5 767.3L590.2 705.8L591.0 756.9L591.6 706.0L592.3 755.4L593.1 698.1L593.7 745.2L594.4 694.5L595.0 748.0L595.7 695.5L596.5 739.2L597.1 688.5L597.8 738.8L598.6 689.3L599.2 732.7L599.9 686.7L600.5 728.9L601.3 680.3L602.0 726.0L602.7 681.0L603.3 724.9L604.0 676.4L604.6 720.8L605.2 674.6L606.0 713.1L606.8 671.2L607.6 708.0L608.2 668.2L608.8 713.6L609.6 662.8L610.2 702.7L610.9 654.2L611.7 703.4L612.4 640.0L613.2 700.4L614.0 650.1L614.7 698.7L615.5 646.3L616.2 691.9L617.0 639.4L617.8 695.7L618.5 641.4L619.3 696.3L620.1 637.7L620.7 692.4L621.4 637.0L622.1 692.1L623.0 635.3L623.5 688.5L624.3 629.3L625.1 690.6L625.7 627.4L626.5 694.3L627.2 630.1L627.9 692.3L628.5 624.0L629.2 690.0L630.0 621.8L630.8 703.1L631.5 629.2L632.3 684.3L632.9 622.7L633.5 681.5L634.1 623.8L634.8 682.4L635.5 620.7L636.1 677.6L636.9 617.5L637.6 680.5L638.2 611.9L638.9 672.3L639.6 600.2L640.3 662.1L641.0 608.9L641.6 655.7L642.2 601.9L642.9 657.2L643.5 589.3L644.3 650.7L645.0 584.7L645.6 636.5L646.4 579.2L647.2 630.4L647.9 575.1L648.5 627.1L649.2 575.0L649.8 625.8L650.4 566.6L651.2 623.1L651.8 565.9L652.6 622.5L653.3 562.3L653.9 558.7L654.0 630.6L654.7 564.8L655.4 623.0L656.1 571.5L656.7 627.1L657.4 576.7L658.0 630.9L658.7 569.9L658.9 632.4L659.4 628.4L660.1 562.0L660.8 620.3L661.3 565.0L662.0 618.2L662.6 559.1L663.3 611.5L663.9 554.1L664.4 545.3L664.6 607.5L665.3 556.0L666.1 606.7L666.8 550.2L667.5 611.9L668.1 551.6L668.8 614.2L669.2 618.8L669.5 557.2L670.3 609.3L671.0 542.9L671.8 597.9L672.4 538.6L673.2 590.4L673.8 532.1L674.4 589.1L675.2 525.2L676.0 576.2L676.6 509.9L677.4 570.5L678.1 505.7L678.8 564.0L679.5 501.6L680.2 554.0L680.9 484.9L681.6 535.4L682.3 471.4L683.1 518.3L683.8 459.0L684.4 516.3L685.1 453.9L685.9 500.6L686.7 450.5L687.3 505.1L688.0 438.9L688.5 494.5L689.3 437.9L689.9 487.5L690.5 436.1L691.1 479.9L691.9 434.8L692.6 480.0L693.2 436.8L694.0 483.0L694.8 420.2L695.5 480.0L696.0 488.3L696.2 429.9L696.9 477.6L697.5 424.4L697.9 418.9L698.3 479.7L699.0 422.7L699.7 472.5L700.3 422.1L701.1 476.7L701.7 424.1L702.3 475.7L703.0 423.7L703.6 475.3L704.3 428.5L704.8 476.2L705.7 423.4L706.4 469.3L707.2 419.6L707.8 469.0L708.6 418.4L709.4 462.6L710.2 415.8L711.0 451.4L711.8 406.3L712.4 447.9L713.1 396.9L713.8 434.2L714.4 380.0L715.2 433.2L716.0 377.7L716.7 431.1L717.5 369.4L718.2 423.7L719.0 371.8L719.8 421.6L720.5 369.7L721.3 416.5L722.0 367.2L722.7 412.4L723.4 358.3L724.2 405.7L725.0 354.3L725.7 393.6L726.5 347.4L727.1 385.5L727.9 336.3L728.6 365.1L729.2 328.4L730.0 347.9L730.7 309.8L731.4 335.0L732.2 294.0L733.0 334.4L733.9 281.0L734.6 323.7L735.4 268.1L736.2 315.3L736.8 265.5L737.4 312.3L738.0 257.0L738.8 309.2L739.6 260.0L740.3 308.3L741.0 238.5L741.1 248.0L741.9 306.4L742.6 243.2L743.3 304.0L744.1 253.1L744.8 302.0L745.6 250.7L746.4 286.1L746.9 249.0L747.6 277.5L748.3 245.7L749.2 254.1L749.9 205.2L750.5 234.7L751.1 193.8L751.8 220.7L752.4 185.5L753.2 209.7L753.9 173.2L754.6 202.9L755.3 175.8L756.1 195.3L756.8 164.8L757.6 193.1L758.2 159.6L758.3 156.1L758.9 190.2L759.6 158.9L760.4 190.7L761.2 162.7L761.9 192.4L762.5 163.5L763.1 189.0L763.8 164.4L764.5 190.2L765.1 161.7L765.7 190.5L766.4 162.9L767.2 191.4L768.1 163.4L768.8 200.1L769.7 162.3L770.4 198.8L770.7 160.9L771.0 163.9L771.8 198.0L772.3 165.8L772.9 201.2L773.6 206.4L773.7 172.5L774.5 199.1L775.1 176.0L775.7 189.3L776.4 177.9L777.0 178.5L777.8 148.7L778.5 162.9L779.2 132.9L779.9 151.8L780.6 125.2L781.4 142.4L782.0 117.3L782.2 115.0L782.9 149.7L783.7 124.1L784.4 155.2L785.0 128.6L785.8 165.3L786.1 167.2L786.4 132.7L787.0 153.1L787.7 137.1L788.5 132.2L789.0 116.1L789.7 115.7L790.4 98.4L791.1 112.7L791.7 92.5L792.4 113.9L792.8 86.2L793.0 87.3L793.8 114.5L794.5 90.4L795.4 116.8L795.9 93.3L796.8 113.9L797.6 97.4L798.2 116.7L798.9 105.3L799.7 126.8L800.4 113.0L801.3 135.9L801.8 117.9L802.4 140.8L803.1 125.3L803.3 148.0L803.9 140.4L804.5 112.1L805.0 130.1L805.7 99.3L806.5 119.1L807.3 84.8L807.9 109.1L808.7 80.2L809.4 103.7L810.0 75.7L810.1 79.2L810.9 98.0L811.6 81.6L812.3 98.0L813.0 86.4L813.7 101.6L814.3 90.3L815.0 104.5L815.7 91.3L816.5 106.8L817.3 95.0L817.8 108.9L818.7 96.6L819.5 111.7L820.3 99.3L821.0 116.1L821.7 101.0L822.3 119.8L823.1 103.6L823.4 123.1L823.7 121.2L824.4 104.2L825.1 118.5L825.8 102.0L826.4 114.4L827.2 100.8L827.9 112.3L828.4 98.1L829.0 109.4L829.6 94.6L830.2 105.9L830.8 88.0L831.6 105.7L832.0 74.7L832.3 77.3L833.0 102.3L833.6 83.1L834.4 104.5L835.1 87.9L836.0 104.1L836.7 90.5L837.3 106.5L838.0 88.5L838.8 111.9L839.5 87.4L839.7 87.2L840.1 110.4L840.9 89.8L841.4 112.9L842.1 93.0L842.9 112.1L843.6 96.4L844.4 113.5L844.5 115.4L845.0 98.0L845.6 114.1L846.2 97.9L847.0 111.3L847.7 94.8L848.3 109.6L848.9 90.8L849.7 109.2L850.4 88.8L851.0 105.5L851.2 85.6L851.7 90.0L852.4 106.8L853.1 95.6L853.7 108.7L854.5 102.2L855.2 109.1L855.9 105.2L856.7 111.1L856.9 110.6L857.5 106.6L858.2 108.7L858.9 107.6L859.6 107.3" stroke="#008080" stroke-width="2.4"/>
</g>
</g>
<g>
<path d="M772.0 581.5L687.2 631.3" stroke="#000" stroke-width="1.8" fill="none"/><path d="M660.5 647.0L683.2 624.4L691.3 638.2Z" fill="#000"/>
<path d="M897.3 910.5L967.7 1023.1" stroke="#000" stroke-width="1.8" fill="none"/><path d="M984.1 1049.4L960.9 1027.4L974.5 1018.9Z" fill="#000"/>
<path d="M1803.9 703.1L1837.9 748.7" stroke="#000" stroke-width="1.8" fill="none"/><path d="M1856.5 773.5L1831.5 753.5L1844.4 743.9Z" fill="#000"/>
<path d="M1617.0 1200.4L1555.4 1132.4" stroke="#000" stroke-width="1.8" fill="none"/><path d="M1534.6 1109.4L1561.3 1127.0L1549.5 1137.7Z" fill="#000"/>
</g>
<g font-size="66.67" text-anchor="end">
<text id="y0" x="257.00" y="1359.80" letter-spacing="0.933">0.00</text>
<text id="y1" x="257.00" y="1231.03" letter-spacing="0.933">0.03</text>
<text id="y2" x="257.00" y="1102.26" letter-spacing="0.933">0.06</text>
<text id="y3" x="257.00" y="973.49" letter-spacing="0.933">0.09</text>
<text id="y4" x="257.00" y="844.72" letter-spacing="0.933">0.12</text>
<text id="y5" x="257.00" y="715.95" letter-spacing="0.933">0.15</text>
<text id="y6" x="257.00" y="587.18" letter-spacing="0.933">0.18</text>
<text id="y7" x="257.00" y="458.41" letter-spacing="0.933">0.21</text>
<text id="y8" x="257.00" y="329.64" letter-spacing="0.933">0.24</text>
<text id="y9" x="257.00" y="200.87" letter-spacing="0.933">0.27</text>
<text id="y10" x="257.00" y="72.10" letter-spacing="0.933">0.30</text>
</g>
<g font-size="66.67" text-anchor="middle">
<text id="x0" x="284.40" y="1421.30" letter-spacing="1.181">0</text>
<text id="x1" x="501.50" y="1421.30" letter-spacing="1.181">500</text>
<text id="x2" x="720.00" y="1421.30" letter-spacing="1.181">1000</text>
<text id="x3" x="936.40" y="1421.30" letter-spacing="1.181">1500</text>
<text id="x4" x="1152.20" y="1421.30" letter-spacing="1.181">2000</text>
<text id="x5" x="1369.90" y="1421.30" letter-spacing="1.181">2500</text>
<text id="x6" x="1587.20" y="1421.30" letter-spacing="1.181">3000</text>
<text id="x7" x="1804.30" y="1421.30" letter-spacing="1.181">3500</text>
<text id="x8" x="2021.50" y="1421.30" letter-spacing="1.181">4000</text>
</g>
<text id="xlabel" x="1074.60" y="1538.60" font-size="66.67" letter-spacing="1.040" >Time/s</text>
<text id="ylabel" transform="translate(76.00 956.30) rotate(-90)" font-size="66.67" letter-spacing="0.291">Coefficient of friction</text>
<text id="title" x="430.00" y="315.60" font-size="66.67" letter-spacing="0.417" >ZrO<tspan font-size="40" dy="26.8" stroke-width="0">2</tspan><tspan dy="-26.8"> ball &amp; NFC7 flat under different enviroments</tspan></text>
<text id="temp" x="1835.50" y="137.80" font-size="66.67" letter-spacing="0.900" >200<tspan font-size="41" dy="-36" stroke-width="0">o</tspan><tspan dy="36">C</tspan></text>
<text id="vac" x="776.00" y="573.40" font-size="66.67" letter-spacing="1.640" >Vacuum</text>
<text id="nit" x="761.00" y="886.40" font-size="66.67" letter-spacing="0.771" >Nitrogen</text>
<text id="air" x="1706.50" y="699.30" font-size="66.67" letter-spacing="0.900" >Air</text>
<text id="hyd" x="1632.00" y="1240.10" font-size="66.67" letter-spacing="0.629" >Hydrogen</text>
</svg></body></html>
